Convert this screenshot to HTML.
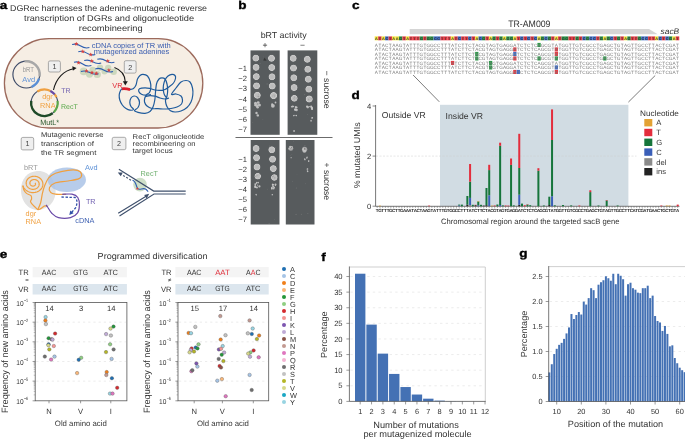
<!DOCTYPE html>
<html><head><meta charset="utf-8"><title>DGRec figure</title>
<style>
html,body{margin:0;padding:0;background:#fff;}
body{width:685px;height:440px;overflow:hidden;}
svg{display:block;font-family:"Liberation Sans", sans-serif;text-rendering:geometricPrecision;will-change:transform;}
</style></head><body>
<svg width="685" height="440" viewBox="0 0 685 440">
<text x="-0.30" y="9.20" font-size="11.5" fill="#000" textLength="7.55" lengthAdjust="spacingAndGlyphs" font-weight="bold" stroke="#000" stroke-width="0.35">a</text>
<text x="238.30" y="9.30" font-size="11.5" fill="#000" textLength="8.29" lengthAdjust="spacingAndGlyphs" font-weight="bold" stroke="#000" stroke-width="0.35">b</text>
<text x="352.00" y="9.10" font-size="11.5" fill="#000" textLength="7.55" lengthAdjust="spacingAndGlyphs" font-weight="bold" stroke="#000" stroke-width="0.35">c</text>
<text x="351.60" y="98.70" font-size="11.5" fill="#000" textLength="8.29" lengthAdjust="spacingAndGlyphs" font-weight="bold" stroke="#000" stroke-width="0.35">d</text>
<text x="-0.30" y="258.10" font-size="11.5" fill="#000" textLength="7.55" lengthAdjust="spacingAndGlyphs" font-weight="bold" stroke="#000" stroke-width="0.35">e</text>
<text x="321.30" y="261.00" font-size="11.5" fill="#000" textLength="4.52" lengthAdjust="spacingAndGlyphs" font-weight="bold" stroke="#000" stroke-width="0.35">f</text>
<text x="519.30" y="256.60" font-size="11.5" fill="#000" textLength="8.29" lengthAdjust="spacingAndGlyphs" font-weight="bold" stroke="#000" stroke-width="0.35">g</text>
<text x="10.00" y="10.90" font-size="8.4" fill="#333" textLength="197.00" lengthAdjust="spacingAndGlyphs">DGRec harnesses the adenine-mutagenic reverse</text>
<text x="109.10" y="20.70" font-size="8.4" fill="#333" text-anchor="middle" textLength="170.00" lengthAdjust="spacingAndGlyphs">transcription of DGRs and oligonucleotide</text>
<text x="110.70" y="30.60" font-size="8.4" fill="#333" text-anchor="middle" textLength="63.70" lengthAdjust="spacingAndGlyphs">recombineering</text>
<rect x="4.4" y="38.6" width="198.4" height="89.4" rx="44.7" ry="44.7" fill="#f6eee4" stroke="#9c6a5c" stroke-width="1.3"/>
<circle cx="26.3" cy="74.6" r="13.4" fill="none" stroke="#3e4b68" stroke-width="1.15"/>
<path d="M24.44,61.33 A13.4,13.4 0 0 1 39.57,76.46" fill="none" stroke="#a8a8a8" stroke-width="2.4"/>
<path d="M39.04,78.74 A13.4,13.4 0 0 1 31.75,86.84" fill="none" stroke="#5a8fd6" stroke-width="2.4"/>
<text x="28.40" y="71.90" font-size="7.4" fill="#9a9a9a" text-anchor="middle" textLength="11.40" lengthAdjust="spacingAndGlyphs">bRT</text>
<text x="28.70" y="81.50" font-size="7.4" fill="#5a8fd6" text-anchor="middle" textLength="12.70" lengthAdjust="spacingAndGlyphs">Avd</text>
<circle cx="44.4" cy="102.8" r="13.3" fill="none" stroke="#3e4b68" stroke-width="1.15"/>
<path d="M37.35,91.52 A13.3,13.3 0 0 1 50.44,90.95" fill="none" stroke="#f0a040" stroke-width="2.2"/>
<path d="M50.44,90.95 A13.3,13.3 0 0 1 54.74,94.43" fill="none" stroke="#6a4aa8" stroke-width="2.2"/>
<path d="M54.74,94.43 A13.3,13.3 0 0 1 56.45,97.18" fill="none" stroke="#f0a040" stroke-width="2.2"/>
<path d="M57.57,100.95 A13.3,13.3 0 0 1 53.80,112.20" fill="none" stroke="#5aa84a" stroke-width="2.2"/>
<path d="M52.59,113.28 A13.3,13.3 0 0 1 31.23,100.95" fill="none" stroke="#1f4a28" stroke-width="2.4"/>
<text x="47.50" y="99.00" font-size="7.3" fill="#f0a040" text-anchor="middle">dgr</text>
<text x="47.80" y="107.80" font-size="7.3" fill="#f0a040" text-anchor="middle">RNA</text>
<text x="61.20" y="92.60" font-size="7.0" fill="#7060b0">TR</text>
<text x="61.00" y="108.60" font-size="7.0" fill="#5aa84a">RecT</text>
<text x="40.20" y="125.40" font-size="7.6" fill="#2a5a30" textLength="19.00" lengthAdjust="spacingAndGlyphs">MutL*</text>
<rect x="48.4" y="60.9" width="12.0" height="11.1" rx="1.6" fill="#efefef" stroke="#8a8a8a" stroke-width="0.7"/>
<text x="54.40" y="69.05" font-size="7.2" fill="#444" text-anchor="middle">1</text>
<rect x="124.3" y="60.7" width="11.8" height="12.4" rx="1.6" fill="#efefef" stroke="#8a8a8a" stroke-width="0.7"/>
<text x="130.20" y="69.50" font-size="7.2" fill="#444" text-anchor="middle">2</text>
<path d="M53.5,90 C56,78 64,70.5 73.5,68.8" fill="none" stroke="#1a1a1a" stroke-width="1.1"/>
<path d="M76.6,68.0 L72.3,66.2 L72.9,70.8 Z" fill="#1a1a1a"/>
<path d="M114.4,67.6 C121,70 125,75 125.3,82" fill="none" stroke="#1a1a1a" stroke-width="1.1"/>
<path d="M125.3,85.6 L122.8,81.2 L127.8,81.2 Z" fill="#1a1a1a"/>
<circle cx="83.6" cy="71.4" r="3.8" fill="#bfd0b0" opacity="0.75"/>
<circle cx="89.5" cy="74.1" r="3.6" fill="#bfd0b0" opacity="0.75"/>
<circle cx="97.3" cy="74.5" r="3.6" fill="#bfd0b0" opacity="0.75"/>
<circle cx="100.0" cy="67.6" r="3.2" fill="#bfd0b0" opacity="0.75"/>
<circle cx="108.2" cy="67.9" r="3.2" fill="#bfd0b0" opacity="0.75"/>
<circle cx="113.6" cy="71.8" r="3.3" fill="#bfd0b0" opacity="0.75"/>
<circle cx="92.7" cy="70.0" r="3.2" fill="#bfd0b0" opacity="0.75"/>
<circle cx="104.5" cy="71.5" r="3.0" fill="#bfd0b0" opacity="0.75"/>
<path d="M72.1,44.6 Q76.425,43.2 80.75,46.05 T89.4,47.5" fill="none" stroke="#2f5fb0" stroke-width="1.1"/>
<polygon points="76.30,41.70 76.88,43.10 78.39,43.22 77.24,44.21 77.59,45.68 76.30,44.89 75.01,45.68 75.36,44.21 74.21,43.22 75.72,43.10" fill="#d84040"/>
<path d="M78.3,51.8 Q82.55,50.4 86.8,53.099999999999994 T95.3,54.4" fill="none" stroke="#2f5fb0" stroke-width="1.1"/>
<polygon points="82.80,49.30 83.38,50.70 84.89,50.82 83.74,51.81 84.09,53.28 82.80,52.49 81.51,53.28 81.86,51.81 80.71,50.82 82.22,50.70" fill="#d84040"/>
<polygon points="90.70,52.40 91.28,53.80 92.79,53.92 91.64,54.91 91.99,56.38 90.70,55.59 89.41,56.38 89.76,54.91 88.61,53.92 90.12,53.80" fill="#d84040"/>
<path d="M84.2,60.6 Q88.45,59.2 92.7,61.8 T101.2,63.0" fill="none" stroke="#2f5fb0" stroke-width="1.1"/>
<polygon points="91.80,58.80 92.38,60.20 93.89,60.32 92.74,61.31 93.09,62.78 91.80,61.99 90.51,62.78 90.86,61.31 89.71,60.32 91.22,60.20" fill="#d84040"/>
<path d="M97.3,59.3 Q101.57499999999999,57.9 105.85,60.8 T114.4,62.3" fill="none" stroke="#2f5fb0" stroke-width="1.1"/>
<polygon points="107.80,58.80 108.38,60.20 109.89,60.32 108.74,61.31 109.09,62.78 107.80,61.99 106.51,62.78 106.86,61.31 105.71,60.32 107.22,60.20" fill="#d84040"/>
<path d="M74.0,62.3 Q78.35,60.9 82.7,63.949999999999996 T91.4,65.6" fill="none" stroke="#2f5fb0" stroke-width="1.1"/>
<polygon points="78.60,60.50 79.18,61.90 80.69,62.02 79.54,63.01 79.89,64.48 78.60,63.69 77.31,64.48 77.66,63.01 76.51,62.02 78.02,61.90" fill="#d84040"/>
<path d="M80.9,71.5 Q85.325,70.1 89.75,72.6 T98.6,73.7" fill="none" stroke="#2f5fb0" stroke-width="1.1"/>
<polygon points="86.50,68.80 87.08,70.20 88.59,70.32 87.44,71.31 87.79,72.78 86.50,71.99 85.21,72.78 85.56,71.31 84.41,70.32 85.92,70.20" fill="#d84040"/>
<polygon points="92.00,70.40 92.58,71.80 94.09,71.92 92.94,72.91 93.29,74.38 92.00,73.59 90.71,74.38 91.06,72.91 89.91,71.92 91.42,71.80" fill="#d84040"/>
<polygon points="96.30,71.20 96.88,72.60 98.39,72.72 97.24,73.71 97.59,75.18 96.30,74.39 95.01,75.18 95.36,73.71 94.21,72.72 95.72,72.60" fill="#d84040"/>
<path d="M95.3,68.9 Q99.725,67.5 104.15,70.2 T113.0,71.5" fill="none" stroke="#2f5fb0" stroke-width="1.1"/>
<polygon points="108.90,68.00 109.48,69.40 110.99,69.52 109.84,70.51 110.19,71.98 108.90,71.19 107.61,71.98 107.96,70.51 106.81,69.52 108.32,69.40" fill="#d84040"/>
<text x="91.80" y="48.20" font-size="7.4" fill="#3a5db0" textLength="79.00" lengthAdjust="spacingAndGlyphs">cDNA copies of TR with</text>
<text x="93.80" y="53.60" font-size="7.4" fill="#3a5db0" textLength="75.50" lengthAdjust="spacingAndGlyphs">mutagenized adenines</text>
<text x="112.30" y="88.00" font-size="7.4" fill="#e0303c">VR</text>
<path d="M121.90,88.80 C121.62,89.20 120.65,90.17 120.20,91.20 C119.75,92.23 119.27,93.53 119.20,95.00 C119.13,96.47 119.28,98.33 119.80,100.00 C120.32,101.67 121.27,103.58 122.30,105.00 C123.33,106.42 124.72,107.63 126.00,108.50 C127.28,109.37 128.75,110.07 130.00,110.20 C131.25,110.33 133.33,109.92 133.50,109.30 C133.67,108.68 131.62,107.63 131.00,106.50 C130.38,105.37 129.80,103.92 129.80,102.50 C129.80,101.08 130.30,99.08 131.00,98.00 C131.70,96.92 132.92,96.08 134.00,96.00 C135.08,95.92 136.58,96.42 137.50,97.50 C138.42,98.58 139.42,100.83 139.50,102.50 C139.58,104.17 138.83,106.17 138.00,107.50 C137.17,108.83 134.50,109.70 134.50,110.50 C134.50,111.30 136.25,111.83 138.00,112.30 C139.75,112.77 143.00,113.43 145.00,113.30 C147.00,113.17 148.67,112.55 150.00,111.50 C151.33,110.45 152.20,108.92 153.00,107.00 C153.80,105.08 154.38,102.50 154.80,100.00 C155.22,97.50 155.22,94.67 155.50,92.00 C155.78,89.33 155.92,86.17 156.50,84.00 C157.08,81.83 158.08,80.03 159.00,79.00 C159.92,77.97 161.00,77.80 162.00,77.80 C163.00,77.80 164.17,77.97 165.00,79.00 C165.83,80.03 166.55,82.17 167.00,84.00 C167.45,85.83 167.70,88.00 167.70,90.00 C167.70,92.00 167.37,94.33 167.00,96.00 C166.63,97.67 165.67,98.67 165.50,100.00 C165.33,101.33 165.67,102.75 166.00,104.00 C166.33,105.25 166.75,106.37 167.50,107.50 C168.25,108.63 169.25,110.05 170.50,110.80 C171.75,111.55 173.25,111.97 175.00,112.00 C176.75,112.03 179.00,111.75 181.00,111.00 C183.00,110.25 185.33,109.00 187.00,107.50 C188.67,106.00 190.03,104.08 191.00,102.00 C191.97,99.92 192.55,97.33 192.80,95.00 C193.05,92.67 192.97,90.17 192.50,88.00 C192.03,85.83 191.08,83.25 190.00,82.00 C188.92,80.75 187.50,80.50 186.00,80.50 C184.50,80.50 182.67,80.75 181.00,82.00 C179.33,83.25 177.58,85.97 176.00,88.00 C174.42,90.03 171.50,93.20 171.50,94.20 C171.50,95.20 174.42,93.70 176.00,94.00 C177.58,94.30 179.92,95.00 181.00,96.00 C182.08,97.00 182.42,98.67 182.50,100.00 C182.58,101.33 182.42,102.83 181.50,104.00 C180.58,105.17 178.75,106.25 177.00,107.00 C175.25,107.75 173.00,108.17 171.00,108.50 C169.00,108.83 167.17,108.97 165.00,109.00 C162.83,109.03 160.17,108.78 158.00,108.70 C155.83,108.62 153.83,108.95 152.00,108.50 C150.17,108.05 148.25,107.08 147.00,106.00 C145.75,104.92 144.87,103.33 144.50,102.00 C144.13,100.67 144.47,99.20 144.80,98.00 C145.13,96.80 145.72,95.72 146.50,94.80 C147.28,93.88 148.78,93.63 149.50,92.50 C150.22,91.37 150.67,89.75 150.80,88.00 C150.93,86.25 150.85,84.00 150.30,82.00 C149.75,80.00 148.72,77.28 147.50,76.00 C146.28,74.72 144.25,74.38 143.00,74.30 C141.75,74.22 140.92,74.72 140.00,75.50 C139.08,76.28 138.17,77.42 137.50,79.00 C136.83,80.58 136.67,83.42 136.00,85.00 C135.33,86.58 134.48,87.73 133.50,88.50 C132.52,89.27 130.67,89.42 130.10,89.60" fill="none" stroke="#1f5b9c" stroke-width="1.2" stroke-linecap="round"/>
<path d="M150.50,94.60 C149.75,94.70 147.50,95.27 146.00,95.20 C144.50,95.13 142.70,94.82 141.50,94.20 C140.30,93.58 139.13,92.40 138.80,91.50 C138.47,90.60 138.47,89.42 139.50,88.80 C140.53,88.18 143.25,87.85 145.00,87.80 C146.75,87.75 148.33,88.13 150.00,88.50 C151.67,88.87 153.33,89.68 155.00,90.00 C156.67,90.32 158.33,90.48 160.00,90.40 C161.67,90.32 163.42,90.15 165.00,89.50 C166.58,88.85 168.08,87.58 169.50,86.50 C170.92,85.42 172.50,84.33 173.50,83.00 C174.50,81.67 175.25,79.75 175.50,78.50 C175.75,77.25 175.58,76.20 175.00,75.50 C174.42,74.80 173.17,74.22 172.00,74.30 C170.83,74.38 169.17,75.05 168.00,76.00 C166.83,76.95 165.75,78.50 165.00,80.00 C164.25,81.50 163.78,83.33 163.50,85.00 C163.22,86.67 163.13,88.33 163.30,90.00 C163.47,91.67 163.97,93.75 164.50,95.00 C165.03,96.25 166.17,97.08 166.50,97.50" fill="none" stroke="#1f5b9c" stroke-width="1.2" stroke-linecap="round"/>
<path d="M146.50,96.50 C147.08,96.35 148.58,95.65 150.00,95.60 C151.42,95.55 153.33,95.80 155.00,96.20 C156.67,96.60 158.33,97.53 160.00,98.00 C161.67,98.47 163.58,98.97 165.00,99.00 C166.42,99.03 167.92,98.33 168.50,98.20" fill="none" stroke="#1f5b9c" stroke-width="1.2" stroke-linecap="round"/>
<path d="M121.9,88.8 Q126,88.4 130.1,89.6" fill="none" stroke="#dc1f2e" stroke-width="2.7"/>
<rect x="21.2" y="137.4" width="12.5" height="12.5" rx="1.6" fill="#efefef" stroke="#8a8a8a" stroke-width="0.7"/>
<text x="27.45" y="146.25" font-size="7.2" fill="#444" text-anchor="middle">1</text>
<rect x="112.2" y="137.3" width="13.7" height="12.4" rx="1.6" fill="#efefef" stroke="#8a8a8a" stroke-width="0.7"/>
<text x="119.05" y="146.10" font-size="7.2" fill="#444" text-anchor="middle">2</text>
<text x="40.90" y="137.20" font-size="6.9" fill="#333" textLength="62.50" lengthAdjust="spacingAndGlyphs">Mutagenic reverse</text>
<text x="40.90" y="145.80" font-size="6.9" fill="#333" textLength="53.00" lengthAdjust="spacingAndGlyphs">transcription of</text>
<text x="40.90" y="154.50" font-size="6.9" fill="#333" textLength="55.50" lengthAdjust="spacingAndGlyphs">the TR segment</text>
<text x="132.60" y="138.80" font-size="6.9" fill="#333" textLength="71.60" lengthAdjust="spacingAndGlyphs">RecT oligonucleotide</text>
<text x="132.60" y="145.80" font-size="6.9" fill="#333" textLength="63.00" lengthAdjust="spacingAndGlyphs">recombineering on</text>
<text x="132.60" y="152.80" font-size="6.9" fill="#333" textLength="40.00" lengthAdjust="spacingAndGlyphs">target locus</text>
<path d="M37,171 C48,170 56,180 55.6,192 C55,203 48,209 38,210 C27,210 21,200 21,190 C21,179 27,172 37,171 Z" fill="#e2e2e2"/>
<ellipse cx="66.8" cy="179.8" rx="19.2" ry="12.2" fill="#aac3e6" opacity="0.85"/>
<text x="24.00" y="169.60" font-size="7.3" fill="#9a9a9a">bRT</text>
<text x="85.00" y="169.60" font-size="7.3" fill="#5a8fd6">Avd</text>
<path d="M34.91,182.94 L35.01,183.01 L35.10,183.10 L35.19,183.19 L35.27,183.30 L35.34,183.41 L35.40,183.53 L35.44,183.66 L35.48,183.79 L35.50,183.93 L35.51,184.08 L35.51,184.23 L35.49,184.38 L35.45,184.53 L35.40,184.68 L35.33,184.83 L35.25,184.97 L35.15,185.12 L35.04,185.25 L34.91,185.39 L34.76,185.51 L34.61,185.62 L34.43,185.73 L34.25,185.82 L34.05,185.90 L33.85,185.97 L33.63,186.02 L33.41,186.05 L33.18,186.07 L32.94,186.08 L32.71,186.06 L32.47,186.03 L32.23,185.98 L31.99,185.91 L31.76,185.82 L31.53,185.72 L31.31,185.60 L31.10,185.46 L30.90,185.30 L30.72,185.12 L30.54,184.93 L30.39,184.73 L30.25,184.51 L30.13,184.28 L30.03,184.04 L29.96,183.79 L29.90,183.54 L29.87,183.27 L29.87,183.00 L29.89,182.73 L29.94,182.46 L30.01,182.19 L30.11,181.92 L30.23,181.66 L30.38,181.40 L30.56,181.15 L30.76,180.91 L30.98,180.69 L31.23,180.48 L31.50,180.29 L31.78,180.11 L32.09,179.95 L32.41,179.82 L32.75,179.71 L33.11,179.62 L33.47,179.55 L33.84,179.52 L34.22,179.51 L34.60,179.52 L34.98,179.56 L35.36,179.63 L35.73,179.73 L36.10,179.86 L36.46,180.01 L36.81,180.19 L37.14,180.40 L37.46,180.63 L37.75,180.89 L38.03,181.17 L38.28,181.47 L38.50,181.79 L38.69,182.13 L38.86,182.48 L38.99,182.85 L39.09,183.23 L39.15,183.61 L39.18,184.01 L39.17,184.41 L39.13,184.80 L39.04,185.20 L38.92,185.60 L38.77,185.99 L38.57,186.36 L38.35,186.73 L38.08,187.08 L37.78,187.42 L37.45,187.73 L37.09,188.02 L36.70,188.29 L36.29,188.53 L35.84,188.74 L35.38,188.93 L34.90,189.07 L34.41,189.19 L33.90,189.27 L33.38,189.32 L32.85,189.32 L32.33,189.29 L31.80,189.23 L31.28,189.12 L30.76,188.98 L30.26,188.80 L29.77,188.58 L29.30,188.33 L28.85,188.04 L28.43,187.72 L28.03,187.37 L27.67,186.99 L27.34,186.58 L27.04,186.14 L26.79,185.69 L26.57,185.21 L26.40,184.72 L26.28,184.21 L26.20,183.70 L26.16,183.17 L26.18,182.64 L26.24,182.11 L26.36,181.59 L26.52,181.07 L26.73,180.56 L26.99,180.07 L27.29,179.59 L27.64,179.13 L28.03,178.69 L28.47,178.29 L28.94,177.91 L29.45,177.56 L29.99,177.25 L30.56,176.98 L31.16,176.75 L31.78,176.56 L32.42,176.41 L33.07,176.31 L33.74,176.25 L34.41,176.24 L35.09,176.28 L35.76,176.37 L36.43,176.51 L37.08,176.69 L37.72,176.92 L38.34,177.20 L38.94,177.52 L39.51,177.88 L40.04,178.29 L40.54,178.73 L41.00,179.21 L41.42,179.73 L41.79,180.27 L42.11,180.85 L42.38,181.44 L42.59,182.06 L42.75,182.69 L42.85,183.34 L42.89,183.99 L42.88,184.65 L42.80,185.31 L42.66,185.96 L42.46,186.61 L42.20,187.24 L41.88,187.86 L41.51,188.45 L41.08,189.02 L40.59,189.55 L40.06,190.06 L39.48,190.53 L38.86,190.95 L38.19,191.34 L37.49,191.67 L36.76,191.96 L36.00,192.20 L35.22,192.38 L34.42,192.51 L33.61,192.58 L32.78,192.59 L31.96,192.55 L31.14,192.44 L30.33,192.28 L29.53,192.06 L28.75,191.79 L28.00,191.45 L27.27,191.07 L26.58,190.63 L25.93,190.14 L25.32,189.61 L24.77,189.03 L24.26,188.41 L23.81,187.76 L23.42,187.07 L23.09,186.35 L22.82,185.61" fill="none" stroke="#f0a040" stroke-width="1.2" stroke-linejoin="round"/>
<path d="M22.82,185.61 C23.00,186.35 23.29,188.70 23.90,190.00 C24.51,191.30 25.32,192.45 26.50,193.40 C27.68,194.35 30.15,194.77 31.00,195.70 C31.85,196.63 31.68,198.05 31.60,199.00 C31.52,199.95 30.40,200.53 30.50,201.40 C30.60,202.27 31.45,203.27 32.20,204.20 C32.95,205.13 34.05,206.10 35.00,207.00 C35.95,207.90 36.95,209.33 37.90,209.60 C38.85,209.87 39.57,209.22 40.70,208.60 C41.83,207.98 43.57,206.25 44.70,205.90 C45.83,205.55 47.03,206.40 47.50,206.50" fill="none" stroke="#f0a040" stroke-width="1.2"/>
<path d="M37.90,209.60 C38.37,208.42 39.95,205.20 40.70,202.50 C41.45,199.80 41.73,196.23 42.40,193.40 C43.07,190.57 43.65,188.10 44.70,185.50 C45.75,182.90 46.90,179.85 48.70,177.80 C50.50,175.75 52.28,174.45 55.50,173.20 C58.72,171.95 64.33,170.77 68.00,170.30 C71.67,169.83 75.23,169.73 77.50,170.40 C79.77,171.07 81.35,172.93 81.60,174.30 C81.85,175.67 81.27,177.48 79.00,178.60 C76.73,179.72 72.00,180.27 68.00,181.00 C64.00,181.73 58.08,181.90 55.00,183.00 C51.92,184.10 50.23,186.05 49.50,187.60 C48.77,189.15 49.60,191.20 50.60,192.30 C51.60,193.40 53.55,193.87 55.50,194.20 C57.45,194.53 60.55,194.28 62.30,194.30 C64.05,194.32 65.38,194.30 66.00,194.30" fill="none" stroke="#f0a040" stroke-width="1.2"/>
<path d="M62.30,194.30 C63.92,194.28 69.42,193.67 72.00,194.20 C74.58,194.73 76.57,195.70 77.80,197.50 C79.03,199.30 79.43,202.45 79.40,205.00 C79.37,207.55 79.08,210.70 77.60,212.80 C76.12,214.90 73.68,216.80 70.50,217.60 C67.32,218.40 61.62,218.33 58.50,217.60 C55.38,216.87 53.62,214.97 51.80,213.20 C49.98,211.43 48.57,208.37 47.60,207.00 C46.63,205.63 46.27,205.33 46.00,205.00" fill="none" stroke="#6a4aa8" stroke-width="1.2"/>
<path d="M61.5,197 L75,197.5 C77.5,199 77.5,204 75.5,208 L71.5,212.5" fill="none" stroke="#3050a8" stroke-width="1.3" stroke-dasharray="2.4,1.6"/>
<path d="M69.3,215 L70.3,210.5 L73.6,213.3 Z" fill="#3050a8"/>
<text x="85.90" y="203.60" font-size="7.3" fill="#7060b0">TR</text>
<text x="75.30" y="222.70" font-size="7.3" fill="#3a5db0">cDNA</text>
<text x="25.60" y="216.30" font-size="7.3" fill="#f0a040">dgr</text>
<text x="25.60" y="223.50" font-size="7.3" fill="#f0a040">RNA</text>
<circle cx="140" cy="184.6" r="6.8" fill="#c9dbc2" opacity="0.9"/>
<path d="M118.9,169.3 L153.7,191.1 L185.7,191.1 M119.5,216 L154,194 L185.7,194 M118.2,213.2 L146.5,196" fill="none" stroke="#3f506c" stroke-width="1.15"/>
<path d="M149.2,193.8 L144.2,194.9 L146.7,198.6 Z" fill="#3f506c"/>
<path d="M131,180.2 L121.5,174.4" fill="none" stroke="#3f506c" stroke-width="1.1" stroke-dasharray="2,1.6"/>
<path d="M117.8,172.5 L122.8,172.6 L120.8,176.2 Z" fill="#3f506c"/>
<path d="M132.5,180.3 C136,181 136,186 137.6,188.6 C139.5,190.5 143,187.5 145.5,189 C147,190 147.5,191 148.2,191.6" fill="none" stroke="#2f5fb0" stroke-width="1.1"/>
<polygon points="137.40,187.00 137.82,188.02 138.92,188.11 138.08,188.82 138.34,189.89 137.40,189.32 136.46,189.89 136.72,188.82 135.88,188.11 136.98,188.02" fill="#d84040"/>
<text x="140.60" y="175.70" font-size="7.3" fill="#70b070">RecT</text>
<text x="260.70" y="38.00" font-size="8.6" fill="#333" textLength="46.00" lengthAdjust="spacingAndGlyphs">bRT activity</text>
<text x="265.00" y="47.60" font-size="8.6" fill="#333" text-anchor="middle">+</text>
<text x="302.50" y="47.60" font-size="8.6" fill="#333" text-anchor="middle">−</text>
<rect x="250.5" y="50.4" width="29.2" height="84.4" fill="#575b5d"/>
<rect x="287.6" y="50.4" width="29.7" height="84.4" fill="#575b5d"/>
<rect x="250.7" y="140.0" width="28.8" height="84.5" fill="#575b5d"/>
<rect x="285.8" y="140.0" width="28.7" height="84.5" fill="#575b5d"/>
<line x1="235.5" y1="137.5" x2="332.5" y2="137.5" stroke="#5a5a5a" stroke-width="0.9"/>
<text x="247.00" y="71.00" font-size="7.6" fill="#333" text-anchor="end">−1</text>
<text x="247.00" y="162.00" font-size="7.6" fill="#333" text-anchor="end">−1</text>
<text x="247.00" y="81.17" font-size="7.6" fill="#333" text-anchor="end">−2</text>
<text x="247.00" y="172.00" font-size="7.6" fill="#333" text-anchor="end">−2</text>
<text x="247.00" y="91.34" font-size="7.6" fill="#333" text-anchor="end">−3</text>
<text x="247.00" y="182.00" font-size="7.6" fill="#333" text-anchor="end">−3</text>
<text x="247.00" y="101.51" font-size="7.6" fill="#333" text-anchor="end">−4</text>
<text x="247.00" y="192.00" font-size="7.6" fill="#333" text-anchor="end">−4</text>
<text x="247.00" y="111.68" font-size="7.6" fill="#333" text-anchor="end">−5</text>
<text x="247.00" y="202.00" font-size="7.6" fill="#333" text-anchor="end">−5</text>
<text x="247.00" y="121.85" font-size="7.6" fill="#333" text-anchor="end">−6</text>
<text x="247.00" y="212.00" font-size="7.6" fill="#333" text-anchor="end">−6</text>
<text x="247.00" y="132.02" font-size="7.6" fill="#333" text-anchor="end">−7</text>
<text x="247.00" y="222.00" font-size="7.6" fill="#333" text-anchor="end">−7</text>
<defs><radialGradient id="sp"><stop offset="0" stop-color="#b9b9b9"/><stop offset="0.6" stop-color="#bfbfbf"/><stop offset="0.82" stop-color="#c9c9c9"/><stop offset="1" stop-color="#bdbdbd" stop-opacity="0.1"/></radialGradient></defs>
<circle cx="260.07" cy="63.52" r="0.50" fill="#8a8a8a" opacity="0.5"/>
<circle cx="253.03" cy="95.48" r="0.41" fill="#8a8a8a" opacity="0.5"/>
<circle cx="252.62" cy="93.12" r="0.31" fill="#8a8a8a" opacity="0.5"/>
<circle cx="263.14" cy="56.80" r="0.33" fill="#8a8a8a" opacity="0.5"/>
<circle cx="262.89" cy="119.63" r="0.34" fill="#8a8a8a" opacity="0.5"/>
<circle cx="257.25" cy="103.08" r="0.58" fill="#8a8a8a" opacity="0.5"/>
<circle cx="267.16" cy="83.92" r="0.59" fill="#8a8a8a" opacity="0.5"/>
<circle cx="252.30" cy="122.25" r="0.39" fill="#8a8a8a" opacity="0.5"/>
<circle cx="255.04" cy="60.78" r="0.39" fill="#8a8a8a" opacity="0.5"/>
<circle cx="273.85" cy="66.00" r="0.47" fill="#8a8a8a" opacity="0.5"/>
<circle cx="306.53" cy="81.91" r="0.46" fill="#8a8a8a" opacity="0.5"/>
<circle cx="289.82" cy="55.95" r="0.36" fill="#8a8a8a" opacity="0.5"/>
<circle cx="307.73" cy="86.49" r="0.39" fill="#8a8a8a" opacity="0.5"/>
<circle cx="304.98" cy="88.61" r="0.39" fill="#8a8a8a" opacity="0.5"/>
<circle cx="311.04" cy="109.02" r="0.37" fill="#8a8a8a" opacity="0.5"/>
<circle cx="304.66" cy="94.59" r="0.56" fill="#8a8a8a" opacity="0.5"/>
<circle cx="309.15" cy="74.90" r="0.59" fill="#8a8a8a" opacity="0.5"/>
<circle cx="291.42" cy="85.70" r="0.53" fill="#8a8a8a" opacity="0.5"/>
<circle cx="292.41" cy="91.58" r="0.31" fill="#8a8a8a" opacity="0.5"/>
<circle cx="307.38" cy="114.46" r="0.47" fill="#8a8a8a" opacity="0.5"/>
<circle cx="275.51" cy="167.04" r="0.51" fill="#8a8a8a" opacity="0.5"/>
<circle cx="267.64" cy="189.13" r="0.44" fill="#8a8a8a" opacity="0.5"/>
<circle cx="274.52" cy="219.41" r="0.44" fill="#8a8a8a" opacity="0.5"/>
<circle cx="269.60" cy="146.04" r="0.51" fill="#8a8a8a" opacity="0.5"/>
<circle cx="269.12" cy="223.43" r="0.55" fill="#8a8a8a" opacity="0.5"/>
<circle cx="258.97" cy="173.02" r="0.50" fill="#8a8a8a" opacity="0.5"/>
<circle cx="251.63" cy="179.32" r="0.35" fill="#8a8a8a" opacity="0.5"/>
<circle cx="254.28" cy="145.89" r="0.53" fill="#8a8a8a" opacity="0.5"/>
<circle cx="254.62" cy="161.55" r="0.42" fill="#8a8a8a" opacity="0.5"/>
<circle cx="275.40" cy="147.69" r="0.43" fill="#8a8a8a" opacity="0.5"/>
<circle cx="301.38" cy="214.32" r="0.55" fill="#8a8a8a" opacity="0.5"/>
<circle cx="310.19" cy="164.11" r="0.42" fill="#8a8a8a" opacity="0.5"/>
<circle cx="296.05" cy="214.39" r="0.59" fill="#8a8a8a" opacity="0.5"/>
<circle cx="290.23" cy="155.63" r="0.37" fill="#8a8a8a" opacity="0.5"/>
<circle cx="292.53" cy="181.25" r="0.48" fill="#8a8a8a" opacity="0.5"/>
<circle cx="293.36" cy="141.34" r="0.43" fill="#8a8a8a" opacity="0.5"/>
<circle cx="296.34" cy="188.01" r="0.59" fill="#8a8a8a" opacity="0.5"/>
<circle cx="305.33" cy="183.79" r="0.49" fill="#8a8a8a" opacity="0.5"/>
<circle cx="304.93" cy="145.48" r="0.57" fill="#8a8a8a" opacity="0.5"/>
<circle cx="307.84" cy="213.58" r="0.54" fill="#8a8a8a" opacity="0.5"/>
<circle cx="296.99" cy="174.12" r="0.33" fill="#8a8a8a" opacity="0.5"/>
<circle cx="303.76" cy="146.17" r="0.32" fill="#8a8a8a" opacity="0.5"/>
<circle cx="291.85" cy="154.47" r="0.40" fill="#8a8a8a" opacity="0.5"/>
<circle cx="287.47" cy="141.02" r="0.35" fill="#8a8a8a" opacity="0.5"/>
<circle cx="255.80" cy="58.10" r="3.7" fill="url(#sp)" opacity="1.0"/>
<circle cx="271.50" cy="58.30" r="3.7" fill="url(#sp)" opacity="1.0"/>
<circle cx="256.05" cy="67.35" r="3.7" fill="url(#sp)" opacity="1.0"/>
<circle cx="271.75" cy="67.55" r="3.7" fill="url(#sp)" opacity="1.0"/>
<circle cx="256.30" cy="76.60" r="3.7" fill="url(#sp)" opacity="1.0"/>
<circle cx="272.00" cy="76.80" r="3.7" fill="url(#sp)" opacity="1.0"/>
<circle cx="256.55" cy="85.85" r="3.7" fill="url(#sp)" opacity="1.0"/>
<circle cx="272.25" cy="86.05" r="3.7" fill="url(#sp)" opacity="1.0"/>
<circle cx="257.30" cy="95.30" r="3.7" fill="url(#sp)" opacity="1.0"/>
<circle cx="258.15" cy="95.93" r="0.36" fill="#8a8a8a" opacity="0.7"/>
<circle cx="258.37" cy="94.22" r="0.39" fill="#8a8a8a" opacity="0.7"/>
<circle cx="257.29" cy="96.33" r="0.44" fill="#8a8a8a" opacity="0.7"/>
<circle cx="258.69" cy="96.66" r="0.60" fill="#8a8a8a" opacity="0.7"/>
<circle cx="273.60" cy="95.60" r="3.8" fill="url(#sp)" opacity="1.0"/>
<circle cx="272.32" cy="95.88" r="0.37" fill="#8a8a8a" opacity="0.7"/>
<circle cx="274.44" cy="96.23" r="0.42" fill="#8a8a8a" opacity="0.7"/>
<circle cx="273.93" cy="94.98" r="0.36" fill="#8a8a8a" opacity="0.7"/>
<circle cx="274.93" cy="95.18" r="0.39" fill="#8a8a8a" opacity="0.7"/>
<circle cx="255.5" cy="103.2" r="1.5" fill="#c4c4c4" opacity="0.95"/>
<circle cx="258.2" cy="102.6" r="1.4" fill="#c4c4c4" opacity="0.95"/>
<circle cx="259.4" cy="105.0" r="1.5" fill="#c4c4c4" opacity="0.95"/>
<circle cx="256.8" cy="105.6" r="1.5" fill="#c4c4c4" opacity="0.95"/>
<circle cx="257.6" cy="107.2" r="1.3" fill="#c4c4c4" opacity="0.95"/>
<circle cx="255.2" cy="105.2" r="1.1" fill="#c4c4c4" opacity="0.95"/>
<circle cx="272.9" cy="105.8" r="1.9" fill="#c4c4c4" opacity="0.95"/>
<circle cx="272.2" cy="104.3" r="1.1" fill="#c4c4c4" opacity="0.95"/>
<circle cx="275.5" cy="102.5" r="0.9" fill="#c4c4c4" opacity="0.95"/>
<circle cx="256.5" cy="113.0" r="1.2" fill="#c4c4c4" opacity="0.95"/>
<circle cx="257.8" cy="115.4" r="1.2" fill="#c4c4c4" opacity="0.95"/>
<path d="M264.6,57.5 L266.6,60.8 L263.2,60.6 Z" fill="#2e2e2e" opacity="0.8"/>
<circle cx="293.20" cy="58.30" r="3.7" fill="url(#sp)" opacity="1.0"/>
<circle cx="307.30" cy="59.30" r="3.7" fill="url(#sp)" opacity="1.0"/>
<circle cx="293.50" cy="68.05" r="3.7" fill="url(#sp)" opacity="1.0"/>
<circle cx="307.80" cy="69.25" r="3.7" fill="url(#sp)" opacity="1.0"/>
<circle cx="293.80" cy="77.80" r="3.7" fill="url(#sp)" opacity="1.0"/>
<circle cx="308.30" cy="79.20" r="3.7" fill="url(#sp)" opacity="1.0"/>
<circle cx="294.10" cy="87.55" r="3.7" fill="url(#sp)" opacity="1.0"/>
<circle cx="308.80" cy="89.15" r="3.7" fill="url(#sp)" opacity="1.0"/>
<circle cx="294.30" cy="98.30" r="3.6" fill="url(#sp)" opacity="1.0"/>
<circle cx="293.87" cy="98.18" r="0.48" fill="#8a8a8a" opacity="0.7"/>
<circle cx="296.20" cy="98.04" r="0.52" fill="#8a8a8a" opacity="0.7"/>
<circle cx="294.23" cy="99.34" r="0.39" fill="#8a8a8a" opacity="0.7"/>
<circle cx="294.48" cy="96.98" r="0.54" fill="#8a8a8a" opacity="0.7"/>
<circle cx="309.20" cy="99.00" r="3.8" fill="url(#sp)" opacity="1.0"/>
<circle cx="308.81" cy="99.72" r="0.55" fill="#8a8a8a" opacity="0.7"/>
<circle cx="311.19" cy="98.81" r="0.55" fill="#8a8a8a" opacity="0.7"/>
<circle cx="309.95" cy="97.37" r="0.41" fill="#8a8a8a" opacity="0.7"/>
<circle cx="308.14" cy="98.88" r="0.36" fill="#8a8a8a" opacity="0.7"/>
<circle cx="291.60" cy="106.81" r="0.76" fill="#c6c6c6" opacity="0.9"/>
<circle cx="295.26" cy="109.85" r="0.87" fill="#c6c6c6" opacity="0.9"/>
<circle cx="296.60" cy="110.00" r="1.17" fill="#c6c6c6" opacity="0.9"/>
<circle cx="293.46" cy="106.54" r="0.74" fill="#c6c6c6" opacity="0.9"/>
<circle cx="292.53" cy="106.47" r="0.97" fill="#c6c6c6" opacity="0.9"/>
<circle cx="296.40" cy="109.33" r="0.89" fill="#c6c6c6" opacity="0.9"/>
<circle cx="295.04" cy="109.15" r="0.65" fill="#c6c6c6" opacity="0.9"/>
<circle cx="295.08" cy="109.64" r="1.07" fill="#c6c6c6" opacity="0.9"/>
<circle cx="295.58" cy="107.70" r="0.71" fill="#c6c6c6" opacity="0.9"/>
<circle cx="295.79" cy="107.05" r="1.08" fill="#c6c6c6" opacity="0.9"/>
<circle cx="296.79" cy="107.33" r="0.84" fill="#c6c6c6" opacity="0.9"/>
<circle cx="311.98" cy="109.21" r="0.70" fill="#c6c6c6" opacity="0.9"/>
<circle cx="307.06" cy="106.63" r="1.14" fill="#c6c6c6" opacity="0.9"/>
<circle cx="311.14" cy="106.61" r="1.10" fill="#c6c6c6" opacity="0.9"/>
<circle cx="312.18" cy="108.91" r="0.81" fill="#c6c6c6" opacity="0.9"/>
<circle cx="309.59" cy="106.54" r="0.61" fill="#c6c6c6" opacity="0.9"/>
<circle cx="312.13" cy="108.87" r="0.92" fill="#c6c6c6" opacity="0.9"/>
<circle cx="311.90" cy="107.90" r="1.12" fill="#c6c6c6" opacity="0.9"/>
<circle cx="311.26" cy="106.90" r="0.75" fill="#c6c6c6" opacity="0.9"/>
<circle cx="308.06" cy="107.03" r="0.95" fill="#c6c6c6" opacity="0.9"/>
<circle cx="307.86" cy="107.84" r="0.68" fill="#c6c6c6" opacity="0.9"/>
<circle cx="311.76" cy="107.54" r="0.87" fill="#c6c6c6" opacity="0.9"/>
<circle cx="293.70" cy="115.70" r="0.63" fill="#c6c6c6" opacity="0.9"/>
<circle cx="294.10" cy="115.30" r="0.66" fill="#c6c6c6" opacity="0.9"/>
<circle cx="296.42" cy="115.61" r="0.63" fill="#c6c6c6" opacity="0.9"/>
<circle cx="296.15" cy="115.60" r="0.74" fill="#c6c6c6" opacity="0.9"/>
<circle cx="311.97" cy="117.97" r="0.82" fill="#c6c6c6" opacity="0.9"/>
<circle cx="312.36" cy="117.83" r="0.76" fill="#c6c6c6" opacity="0.9"/>
<circle cx="311.06" cy="121.08" r="0.63" fill="#c6c6c6" opacity="0.9"/>
<circle cx="311.06" cy="120.55" r="0.68" fill="#c6c6c6" opacity="0.9"/>
<circle cx="294.07" cy="130.81" r="0.77" fill="#c6c6c6" opacity="0.9"/>
<circle cx="294.06" cy="131.21" r="0.73" fill="#c6c6c6" opacity="0.9"/>
<circle cx="256.10" cy="148.50" r="3.7" fill="url(#sp)" opacity="1.0"/>
<circle cx="271.80" cy="149.80" r="3.7" fill="url(#sp)" opacity="1.0"/>
<circle cx="256.55" cy="157.75" r="3.7" fill="url(#sp)" opacity="1.0"/>
<circle cx="272.55" cy="159.20" r="3.7" fill="url(#sp)" opacity="1.0"/>
<circle cx="257.00" cy="167.00" r="3.7" fill="url(#sp)" opacity="1.0"/>
<circle cx="273.30" cy="168.60" r="3.7" fill="url(#sp)" opacity="1.0"/>
<circle cx="257.70" cy="176.20" r="3.5" fill="url(#sp)" opacity="1.0"/>
<circle cx="256.74" cy="175.38" r="0.48" fill="#8a8a8a" opacity="0.7"/>
<circle cx="257.29" cy="175.11" r="0.48" fill="#8a8a8a" opacity="0.7"/>
<circle cx="255.72" cy="176.48" r="0.52" fill="#8a8a8a" opacity="0.7"/>
<circle cx="259.13" cy="174.80" r="0.41" fill="#8a8a8a" opacity="0.7"/>
<circle cx="274.30" cy="177.50" r="3.5" fill="url(#sp)" opacity="1.0"/>
<circle cx="272.43" cy="176.77" r="0.56" fill="#8a8a8a" opacity="0.7"/>
<circle cx="274.70" cy="177.96" r="0.46" fill="#8a8a8a" opacity="0.7"/>
<circle cx="275.03" cy="177.86" r="0.37" fill="#8a8a8a" opacity="0.7"/>
<circle cx="273.46" cy="175.98" r="0.57" fill="#8a8a8a" opacity="0.7"/>
<circle cx="255.27" cy="186.08" r="0.93" fill="#c6c6c6" opacity="0.9"/>
<circle cx="255.21" cy="186.91" r="1.08" fill="#c6c6c6" opacity="0.9"/>
<circle cx="255.60" cy="187.26" r="0.80" fill="#c6c6c6" opacity="0.9"/>
<circle cx="256.94" cy="187.45" r="1.02" fill="#c6c6c6" opacity="0.9"/>
<circle cx="255.31" cy="184.66" r="0.86" fill="#c6c6c6" opacity="0.9"/>
<circle cx="256.20" cy="183.48" r="0.76" fill="#c6c6c6" opacity="0.9"/>
<circle cx="258.11" cy="182.60" r="0.88" fill="#c6c6c6" opacity="0.9"/>
<circle cx="256.70" cy="182.59" r="0.77" fill="#c6c6c6" opacity="0.9"/>
<circle cx="257.62" cy="185.06" r="0.63" fill="#c6c6c6" opacity="0.9"/>
<circle cx="259.43" cy="186.44" r="1.09" fill="#c6c6c6" opacity="0.9"/>
<circle cx="255.02" cy="183.83" r="0.62" fill="#c6c6c6" opacity="0.9"/>
<circle cx="275.39" cy="185.35" r="0.66" fill="#c6c6c6" opacity="0.9"/>
<circle cx="273.61" cy="188.56" r="1.01" fill="#c6c6c6" opacity="0.9"/>
<circle cx="272.79" cy="184.75" r="1.06" fill="#c6c6c6" opacity="0.9"/>
<circle cx="274.35" cy="187.50" r="0.64" fill="#c6c6c6" opacity="0.9"/>
<circle cx="271.79" cy="187.44" r="0.81" fill="#c6c6c6" opacity="0.9"/>
<circle cx="271.86" cy="188.69" r="0.92" fill="#c6c6c6" opacity="0.9"/>
<circle cx="275.51" cy="184.42" r="1.03" fill="#c6c6c6" opacity="0.9"/>
<circle cx="271.83" cy="188.31" r="0.83" fill="#c6c6c6" opacity="0.9"/>
<circle cx="273.20" cy="186.77" r="1.06" fill="#c6c6c6" opacity="0.9"/>
<circle cx="272.84" cy="184.65" r="0.86" fill="#c6c6c6" opacity="0.9"/>
<circle cx="272.69" cy="184.55" r="0.68" fill="#c6c6c6" opacity="0.9"/>
<circle cx="256.05" cy="194.40" r="0.59" fill="#c6c6c6" opacity="0.9"/>
<circle cx="256.31" cy="194.96" r="0.59" fill="#c6c6c6" opacity="0.9"/>
<circle cx="272.50" cy="194.68" r="0.60" fill="#c6c6c6" opacity="0.9"/>
<circle cx="272.02" cy="194.75" r="0.50" fill="#c6c6c6" opacity="0.9"/>
<circle cx="290.90" cy="148.50" r="2.48" fill="#b4b4b4" opacity="0.7"/>
<circle cx="290.79" cy="147.48" r="1.05" fill="#c2c2c2" opacity="0.7"/>
<circle cx="289.18" cy="148.77" r="1.00" fill="#c2c2c2" opacity="0.7"/>
<circle cx="291.24" cy="147.77" r="1.24" fill="#c2c2c2" opacity="0.7"/>
<circle cx="291.27" cy="147.87" r="1.24" fill="#c2c2c2" opacity="0.7"/>
<circle cx="290.20" cy="146.81" r="1.14" fill="#c2c2c2" opacity="0.7"/>
<circle cx="291.55" cy="147.36" r="1.32" fill="#c2c2c2" opacity="0.7"/>
<circle cx="290.37" cy="148.86" r="0.96" fill="#c2c2c2" opacity="0.7"/>
<circle cx="290.99" cy="148.60" r="1.39" fill="#c2c2c2" opacity="0.7"/>
<circle cx="290.89" cy="148.73" r="0.43" fill="#7a7a7a" opacity="0.8"/>
<circle cx="291.56" cy="147.48" r="0.67" fill="#7a7a7a" opacity="0.8"/>
<circle cx="290.83" cy="148.83" r="0.52" fill="#7a7a7a" opacity="0.8"/>
<circle cx="304.60" cy="149.30" r="2.64" fill="#b4b4b4" opacity="0.85"/>
<circle cx="304.30" cy="149.38" r="1.28" fill="#c2c2c2" opacity="0.85"/>
<circle cx="304.44" cy="151.20" r="1.63" fill="#c2c2c2" opacity="0.85"/>
<circle cx="304.14" cy="149.16" r="1.63" fill="#c2c2c2" opacity="0.85"/>
<circle cx="304.34" cy="149.96" r="0.99" fill="#c2c2c2" opacity="0.85"/>
<circle cx="303.91" cy="149.94" r="1.32" fill="#c2c2c2" opacity="0.85"/>
<circle cx="304.90" cy="150.25" r="0.99" fill="#c2c2c2" opacity="0.85"/>
<circle cx="304.58" cy="149.48" r="1.25" fill="#c2c2c2" opacity="0.85"/>
<circle cx="304.64" cy="149.31" r="1.19" fill="#c2c2c2" opacity="0.85"/>
<circle cx="304.73" cy="150.45" r="1.34" fill="#c2c2c2" opacity="0.85"/>
<circle cx="304.60" cy="148.32" r="0.69" fill="#7a7a7a" opacity="0.8"/>
<circle cx="305.02" cy="148.90" r="0.53" fill="#7a7a7a" opacity="0.8"/>
<circle cx="304.82" cy="149.28" r="0.69" fill="#7a7a7a" opacity="0.8"/>
<circle cx="304.67" cy="158.95" r="0.75" fill="#c6c6c6" opacity="0.9"/>
<circle cx="304.97" cy="159.65" r="0.72" fill="#c6c6c6" opacity="0.9"/>
<circle cx="307.11" cy="157.24" r="0.66" fill="#c6c6c6" opacity="0.9"/>
<circle cx="306.80" cy="157.93" r="0.74" fill="#c6c6c6" opacity="0.9"/>
<circle cx="308.73" cy="161.08" r="0.77" fill="#c6c6c6" opacity="0.9"/>
<circle cx="308.58" cy="161.19" r="0.57" fill="#c6c6c6" opacity="0.9"/>
<circle cx="291.12" cy="157.63" r="0.57" fill="#c6c6c6" opacity="0.9"/>
<circle cx="307.18" cy="169.07" r="0.67" fill="#c6c6c6" opacity="0.9"/>
<circle cx="307.60" cy="168.90" r="0.70" fill="#c6c6c6" opacity="0.9"/>
<circle cx="307.49" cy="171.10" r="0.74" fill="#c6c6c6" opacity="0.9"/>
<circle cx="307.70" cy="171.50" r="0.66" fill="#c6c6c6" opacity="0.9"/>
<text x="327.00" y="89.60" font-size="8.6" fill="#333" text-anchor="middle" textLength="38.20" lengthAdjust="spacingAndGlyphs" transform="rotate(90 327.0 89.6)" dy="3">− sucrose</text>
<text x="327.20" y="181.30" font-size="8.6" fill="#333" text-anchor="middle" textLength="37.50" lengthAdjust="spacingAndGlyphs" transform="rotate(90 327.2 181.3)" dy="3">+ sucrose</text>
<text x="508.20" y="27.00" font-size="9.3" fill="#333" textLength="42.30" lengthAdjust="spacingAndGlyphs">TR-AM009</text>
<path d="M409.7,29 L649,29 L657.7,34.2 L409.7,34.2 Z" fill="#d5d5d5"/>
<text x="660.50" y="34.20" font-size="8.0" fill="#333" textLength="18.70" lengthAdjust="spacingAndGlyphs" font-style="italic">sacB</text>
<rect x="374.70" y="36.4" width="3.51" height="3.9" fill="#f3e43c"/>
<rect x="378.16" y="36.4" width="3.51" height="3.9" fill="#e83a44"/>
<rect x="381.62" y="36.4" width="3.51" height="3.9" fill="#f3e43c"/>
<rect x="385.08" y="36.4" width="3.51" height="3.9" fill="#3d6cc8"/>
<rect x="388.54" y="36.4" width="3.51" height="3.9" fill="#e83a44"/>
<rect x="392.00" y="36.4" width="3.51" height="3.9" fill="#f3e43c"/>
<rect x="395.46" y="36.4" width="3.51" height="3.9" fill="#f3e43c"/>
<rect x="398.92" y="36.4" width="3.51" height="3.9" fill="#2d9a4a"/>
<rect x="402.38" y="36.4" width="3.51" height="3.9" fill="#e83a44"/>
<rect x="405.84" y="36.4" width="3.51" height="3.9" fill="#f3e43c"/>
<rect x="409.30" y="36.4" width="3.51" height="3.9" fill="#e83a44"/>
<rect x="412.76" y="36.4" width="3.51" height="3.9" fill="#e83a44"/>
<rect x="416.22" y="36.4" width="3.51" height="3.9" fill="#e83a44"/>
<rect x="419.68" y="36.4" width="3.51" height="3.9" fill="#2d9a4a"/>
<rect x="423.14" y="36.4" width="3.51" height="3.9" fill="#e83a44"/>
<rect x="426.60" y="36.4" width="3.51" height="3.9" fill="#2d9a4a"/>
<rect x="430.06" y="36.4" width="3.51" height="3.9" fill="#2d9a4a"/>
<rect x="433.52" y="36.4" width="3.51" height="3.9" fill="#3d6cc8"/>
<rect x="436.98" y="36.4" width="3.51" height="3.9" fill="#3d6cc8"/>
<rect x="440.44" y="36.4" width="3.51" height="3.9" fill="#e83a44"/>
<rect x="443.90" y="36.4" width="3.51" height="3.9" fill="#e83a44"/>
<rect x="447.36" y="36.4" width="3.51" height="3.9" fill="#e83a44"/>
<rect x="450.82" y="36.4" width="3.51" height="3.9" fill="#f3e43c"/>
<rect x="454.29" y="36.4" width="3.51" height="3.9" fill="#e83a44"/>
<rect x="457.75" y="36.4" width="3.51" height="3.9" fill="#3d6cc8"/>
<rect x="461.21" y="36.4" width="3.51" height="3.9" fill="#e83a44"/>
<rect x="464.67" y="36.4" width="3.51" height="3.9" fill="#e83a44"/>
<rect x="468.13" y="36.4" width="3.51" height="3.9" fill="#3d6cc8"/>
<rect x="471.59" y="36.4" width="3.51" height="3.9" fill="#e83a44"/>
<rect x="475.05" y="36.4" width="3.51" height="3.9" fill="#f3e43c"/>
<rect x="478.51" y="36.4" width="3.51" height="3.9" fill="#3d6cc8"/>
<rect x="481.97" y="36.4" width="3.51" height="3.9" fill="#2d9a4a"/>
<rect x="485.43" y="36.4" width="3.51" height="3.9" fill="#e83a44"/>
<rect x="488.89" y="36.4" width="3.51" height="3.9" fill="#f3e43c"/>
<rect x="492.35" y="36.4" width="3.51" height="3.9" fill="#2d9a4a"/>
<rect x="495.81" y="36.4" width="3.51" height="3.9" fill="#e83a44"/>
<rect x="499.27" y="36.4" width="3.51" height="3.9" fill="#2d9a4a"/>
<rect x="502.73" y="36.4" width="3.51" height="3.9" fill="#f3e43c"/>
<rect x="506.19" y="36.4" width="3.51" height="3.9" fill="#2d9a4a"/>
<rect x="509.65" y="36.4" width="3.51" height="3.9" fill="#2d9a4a"/>
<rect x="513.11" y="36.4" width="3.51" height="3.9" fill="#f3e43c"/>
<rect x="516.57" y="36.4" width="3.51" height="3.9" fill="#e83a44"/>
<rect x="520.03" y="36.4" width="3.51" height="3.9" fill="#3d6cc8"/>
<rect x="523.49" y="36.4" width="3.51" height="3.9" fill="#e83a44"/>
<rect x="526.95" y="36.4" width="3.51" height="3.9" fill="#3d6cc8"/>
<rect x="530.41" y="36.4" width="3.51" height="3.9" fill="#e83a44"/>
<rect x="533.87" y="36.4" width="3.51" height="3.9" fill="#3d6cc8"/>
<rect x="537.33" y="36.4" width="3.51" height="3.9" fill="#f3e43c"/>
<rect x="540.79" y="36.4" width="3.51" height="3.9" fill="#2d9a4a"/>
<rect x="544.25" y="36.4" width="3.51" height="3.9" fill="#3d6cc8"/>
<rect x="547.71" y="36.4" width="3.51" height="3.9" fill="#2d9a4a"/>
<rect x="551.17" y="36.4" width="3.51" height="3.9" fill="#e83a44"/>
<rect x="554.63" y="36.4" width="3.51" height="3.9" fill="#f3e43c"/>
<rect x="558.09" y="36.4" width="3.51" height="3.9" fill="#e83a44"/>
<rect x="561.55" y="36.4" width="3.51" height="3.9" fill="#2d9a4a"/>
<rect x="565.01" y="36.4" width="3.51" height="3.9" fill="#2d9a4a"/>
<rect x="568.47" y="36.4" width="3.51" height="3.9" fill="#e83a44"/>
<rect x="571.93" y="36.4" width="3.51" height="3.9" fill="#e83a44"/>
<rect x="575.39" y="36.4" width="3.51" height="3.9" fill="#2d9a4a"/>
<rect x="578.85" y="36.4" width="3.51" height="3.9" fill="#e83a44"/>
<rect x="582.31" y="36.4" width="3.51" height="3.9" fill="#3d6cc8"/>
<rect x="585.77" y="36.4" width="3.51" height="3.9" fill="#2d9a4a"/>
<rect x="589.23" y="36.4" width="3.51" height="3.9" fill="#3d6cc8"/>
<rect x="592.69" y="36.4" width="3.51" height="3.9" fill="#3d6cc8"/>
<rect x="596.15" y="36.4" width="3.51" height="3.9" fill="#e83a44"/>
<rect x="599.61" y="36.4" width="3.51" height="3.9" fill="#2d9a4a"/>
<rect x="603.08" y="36.4" width="3.51" height="3.9" fill="#f3e43c"/>
<rect x="606.54" y="36.4" width="3.51" height="3.9" fill="#2d9a4a"/>
<rect x="610.00" y="36.4" width="3.51" height="3.9" fill="#3d6cc8"/>
<rect x="613.46" y="36.4" width="3.51" height="3.9" fill="#e83a44"/>
<rect x="616.92" y="36.4" width="3.51" height="3.9" fill="#2d9a4a"/>
<rect x="620.38" y="36.4" width="3.51" height="3.9" fill="#e83a44"/>
<rect x="623.84" y="36.4" width="3.51" height="3.9" fill="#f3e43c"/>
<rect x="627.30" y="36.4" width="3.51" height="3.9" fill="#2d9a4a"/>
<rect x="630.76" y="36.4" width="3.51" height="3.9" fill="#e83a44"/>
<rect x="634.22" y="36.4" width="3.51" height="3.9" fill="#e83a44"/>
<rect x="637.68" y="36.4" width="3.51" height="3.9" fill="#2d9a4a"/>
<rect x="641.14" y="36.4" width="3.51" height="3.9" fill="#3d6cc8"/>
<rect x="644.60" y="36.4" width="3.51" height="3.9" fill="#3d6cc8"/>
<rect x="648.06" y="36.4" width="3.51" height="3.9" fill="#e83a44"/>
<rect x="651.52" y="36.4" width="3.51" height="3.9" fill="#e83a44"/>
<rect x="654.98" y="36.4" width="3.51" height="3.9" fill="#f3e43c"/>
<rect x="658.44" y="36.4" width="3.51" height="3.9" fill="#3d6cc8"/>
<rect x="661.90" y="36.4" width="3.51" height="3.9" fill="#e83a44"/>
<rect x="665.36" y="36.4" width="3.51" height="3.9" fill="#3d6cc8"/>
<rect x="668.82" y="36.4" width="3.51" height="3.9" fill="#2d9a4a"/>
<rect x="672.28" y="36.4" width="3.51" height="3.9" fill="#f3e43c"/>
<rect x="675.74" y="36.4" width="3.51" height="3.9" fill="#e83a44"/>
<text x="375.06 378.73 381.98 385.44 389.11 392.36 395.82 399.17 402.95 406.20 409.87 413.33 416.79 419.94 423.71 426.86 430.32 433.88 437.34 441.01 444.47 447.93 451.18 454.85 458.10 461.78 465.24 468.48 472.16 475.40 478.86 482.22 486.00 489.25 492.60 496.38 499.52 503.09 506.44 509.90 513.47 517.14 520.39 524.06 527.31 530.98 534.23 537.69 541.04 544.61 547.96 551.74 554.99 558.66 561.80 565.26 569.04 572.50 575.65 579.42 582.67 586.03 589.59 593.05 596.72 599.87 603.43 606.79 610.35 614.03 617.17 620.95 624.19 627.55 631.33 634.79 637.93 641.50 644.96 648.63 652.09 655.34 658.80 662.47 665.72 669.07 672.64 676.31" y="39.7" font-size="3.8" fill="#333" font-weight="bold">ATACTAAGTATTTGTGGCCTTTATCTTCTACGTAGTGAGGATCTCTCAGCGTATGGTTGTCGCCTGAGCTGTAGTTGCCTTACTCGAT</text>
<rect x="537.43" y="42.90" width="3.26" height="4.1" fill="#2d9a4a"/>
<text x="374.86 378.46 381.78 385.11 388.84 392.16 395.62 398.82 402.68 406.00 409.60 413.06 416.52 419.59 423.44 426.51 429.97 433.56 437.02 440.74 444.20 447.66 450.99 454.58 457.78 461.50 464.96 468.16 471.88 475.21 478.54 481.87 485.72 489.05 492.25 496.10 499.17 502.89 506.09 509.55 513.27 516.86 520.06 523.78 526.98 530.71 533.90 537.49 540.69 544.28 547.61 551.47 554.79 558.39 561.45 564.91 568.77 572.23 575.30 579.15 582.35 585.68 589.27 592.73 596.45 599.52 603.24 606.44 610.03 613.75 616.82 620.67 624.00 627.20 631.05 634.51 637.58 641.17 644.63 648.35 651.81 655.14 658.47 662.19 665.39 668.72 672.44 676.03" y="46.50" font-size="4.7" fill="#7a7a7a">ATACTAAGTATTTGTGGCCTTTATCTTCTACGTAGTGAGGATCTCTCAGCGTATGGTTGTCGCCTGAGCTGTAGTTGCCTTACTCGAT</text>
<rect x="513.21" y="47.40" width="3.26" height="4.1" fill="#e83a44"/>
<rect x="554.73" y="47.40" width="3.26" height="4.1" fill="#e83a44"/>
<text x="374.86 378.46 381.78 385.11 388.84 392.16 395.62 398.82 402.68 406.00 409.60 413.06 416.52 419.59 423.44 426.51 429.97 433.56 437.02 440.74 444.20 447.66 450.99 454.58 457.78 461.50 464.96 468.16 471.88 475.21 478.54 481.87 485.72 489.05 492.25 496.10 499.17 502.89 506.09 509.55 513.27 516.86 520.06 523.78 526.98 530.71 533.90 537.49 540.69 544.28 547.61 551.47 554.79 558.39 561.45 564.91 568.77 572.23 575.30 579.15 582.35 585.68 589.27 592.73 596.45 599.52 603.24 606.44 610.03 613.75 616.82 620.67 624.00 627.20 631.05 634.51 637.58 641.17 644.63 648.35 651.81 655.14 658.47 662.19 665.39 668.72 672.44 676.03" y="51.00" font-size="4.7" fill="#7a7a7a">ATACTAAGTATTTGTGGCCTTTATCTTCTACGTAGTGAGGATCTCTCAGCGTATGGTTGTCGCCTGAGCTGTAGTTGCCTTACTCGAT</text>
<rect x="475.15" y="51.90" width="3.26" height="4.1" fill="#2d9a4a"/>
<rect x="513.21" y="51.90" width="3.26" height="4.1" fill="#3d6cc8"/>
<rect x="554.73" y="51.90" width="3.26" height="4.1" fill="#e83a44"/>
<text x="374.86 378.46 381.78 385.11 388.84 392.16 395.62 398.82 402.68 406.00 409.60 413.06 416.52 419.59 423.44 426.51 429.97 433.56 437.02 440.74 444.20 447.66 450.99 454.58 457.78 461.50 464.96 468.16 471.88 475.21 478.54 481.87 485.72 489.05 492.25 496.10 499.17 502.89 506.09 509.55 513.27 516.86 520.06 523.78 526.98 530.71 533.90 537.49 540.69 544.28 547.61 551.47 554.79 558.39 561.45 564.91 568.77 572.23 575.30 579.15 582.35 585.68 589.27 592.73 596.45 599.52 603.24 606.44 610.03 613.75 616.82 620.67 624.00 627.20 631.05 634.51 637.58 641.17 644.63 648.35 651.81 655.14 658.47 662.19 665.39 668.72 672.44 676.03" y="55.50" font-size="4.7" fill="#7a7a7a">ATACTAAGTATTTGTGGCCTTTATCTTCTACGTAGTGAGGATCTCTCAGCGTATGGTTGTCGCCTGAGCTGTAGTTGCCTTACTCGAT</text>
<rect x="475.15" y="56.40" width="3.26" height="4.1" fill="#2d9a4a"/>
<rect x="513.21" y="56.40" width="3.26" height="4.1" fill="#e83a44"/>
<rect x="537.43" y="56.40" width="3.26" height="4.1" fill="#2d9a4a"/>
<rect x="554.73" y="56.40" width="3.26" height="4.1" fill="#2d9a4a"/>
<rect x="603.18" y="56.40" width="3.26" height="4.1" fill="#2d9a4a"/>
<text x="374.86 378.46 381.78 385.11 388.84 392.16 395.62 398.82 402.68 406.00 409.60 413.06 416.52 419.59 423.44 426.51 429.97 433.56 437.02 440.74 444.20 447.66 450.99 454.58 457.78 461.50 464.96 468.16 471.88 475.21 478.54 481.87 485.72 489.05 492.25 496.10 499.17 502.89 506.09 509.55 513.27 516.86 520.06 523.78 526.98 530.71 533.90 537.49 540.69 544.28 547.61 551.47 554.79 558.39 561.45 564.91 568.77 572.23 575.30 579.15 582.35 585.68 589.27 592.73 596.45 599.52 603.24 606.44 610.03 613.75 616.82 620.67 624.00 627.20 631.05 634.51 637.58 641.17 644.63 648.35 651.81 655.14 658.47 662.19 665.39 668.72 672.44 676.03" y="60.00" font-size="4.7" fill="#7a7a7a">ATACTAAGTATTTGTGGCCTTTATCTTCTACGTAGTGAGGATCTCTCAGCGTATGGTTGTCGCCTGAGCTGTAGTTGCCTTACTCGAT</text>
<rect x="450.93" y="60.90" width="3.26" height="4.1" fill="#e83a44"/>
<rect x="488.99" y="60.90" width="3.26" height="4.1" fill="#2d9a4a"/>
<text x="374.86 378.46 381.78 385.11 388.84 392.16 395.62 398.82 402.68 406.00 409.60 413.06 416.52 419.59 423.44 426.51 429.97 433.56 437.02 440.74 444.20 447.66 450.99 454.58 457.78 461.50 464.96 468.16 471.88 475.21 478.54 481.87 485.72 489.05 492.25 496.10 499.17 502.89 506.09 509.55 513.27 516.86 520.06 523.78 526.98 530.71 533.90 537.49 540.69 544.28 547.61 551.47 554.79 558.39 561.45 564.91 568.77 572.23 575.30 579.15 582.35 585.68 589.27 592.73 596.45 599.52 603.24 606.44 610.03 613.75 616.82 620.67 624.00 627.20 631.05 634.51 637.58 641.17 644.63 648.35 651.81 655.14 658.47 662.19 665.39 668.72 672.44 676.03" y="64.50" font-size="4.7" fill="#7a7a7a">ATACTAAGTATTTGTGGCCTTTATCTTCTACGTAGTGAGGATCTCTCAGCGTATGGTTGTCGCCTGAGCTGTAGTTGCCTTACTCGAT</text>
<rect x="488.99" y="65.40" width="3.26" height="4.1" fill="#2d9a4a"/>
<rect x="554.73" y="65.40" width="3.26" height="4.1" fill="#3d6cc8"/>
<text x="374.86 378.46 381.78 385.11 388.84 392.16 395.62 398.82 402.68 406.00 409.60 413.06 416.52 419.59 423.44 426.51 429.97 433.56 437.02 440.74 444.20 447.66 450.99 454.58 457.78 461.50 464.96 468.16 471.88 475.21 478.54 481.87 485.72 489.05 492.25 496.10 499.17 502.89 506.09 509.55 513.27 516.86 520.06 523.78 526.98 530.71 533.90 537.49 540.69 544.28 547.61 551.47 554.79 558.39 561.45 564.91 568.77 572.23 575.30 579.15 582.35 585.68 589.27 592.73 596.45 599.52 603.24 606.44 610.03 613.75 616.82 620.67 624.00 627.20 631.05 634.51 637.58 641.17 644.63 648.35 651.81 655.14 658.47 662.19 665.39 668.72 672.44 676.03" y="69.00" font-size="4.7" fill="#7a7a7a">ATACTAAGTATTTGTGGCCTTTATCTTCTACGTAGTGAGGATCTCTCAGCGTATGGTTGTCGCCTGAGCTGTAGTTGCCTTACTCGAT</text>
<rect x="513.21" y="69.90" width="3.26" height="4.1" fill="#e83a44"/>
<rect x="516.67" y="69.90" width="3.26" height="4.1" fill="#3d6cc8"/>
<rect x="554.73" y="69.90" width="3.26" height="4.1" fill="#e83a44"/>
<text x="374.86 378.46 381.78 385.11 388.84 392.16 395.62 398.82 402.68 406.00 409.60 413.06 416.52 419.59 423.44 426.51 429.97 433.56 437.02 440.74 444.20 447.66 450.99 454.58 457.78 461.50 464.96 468.16 471.88 475.21 478.54 481.87 485.72 489.05 492.25 496.10 499.17 502.89 506.09 509.55 513.27 516.86 520.06 523.78 526.98 530.71 533.90 537.49 540.69 544.28 547.61 551.47 554.79 558.39 561.45 564.91 568.77 572.23 575.30 579.15 582.35 585.68 589.27 592.73 596.45 599.52 603.24 606.44 610.03 613.75 616.82 620.67 624.00 627.20 631.05 634.51 637.58 641.17 644.63 648.35 651.81 655.14 658.47 662.19 665.39 668.72 672.44 676.03" y="73.50" font-size="4.7" fill="#7a7a7a">ATACTAAGTATTTGTGGCCTTTATCTTCTACGTAGTGAGGATCTCTCAGCGTATGGTTGTCGCCTGAGCTGTAGTTGCCTTACTCGAT</text>
<line x1="413.1" y1="75.0" x2="439.3" y2="101.8" stroke="#444" stroke-width="0.7"/>
<line x1="655.2" y1="75.5" x2="628.4" y2="102.1" stroke="#444" stroke-width="0.7"/>
<rect x="440.0" y="104.8" width="188.4" height="101.2" fill="#d1dce3"/>
<line x1="376" y1="156.1" x2="680" y2="156.1" stroke="#cfcfcf" stroke-width="0.5" stroke-dasharray="2,1.5"/>
<rect x="636.5" y="106.5" width="42.5" height="70" fill="#fff"/>
<text x="381.70" y="118.00" font-size="8.6" fill="#333" textLength="44.10" lengthAdjust="spacingAndGlyphs">Outside VR</text>
<text x="445.60" y="118.80" font-size="8.6" fill="#333" textLength="37.50" lengthAdjust="spacingAndGlyphs">Inside VR</text>
<line x1="375.6" y1="105" x2="375.6" y2="206.3" stroke="#555" stroke-width="0.8"/>
<line x1="375.6" y1="206.3" x2="679.5" y2="206.3" stroke="#555" stroke-width="0.8"/>
<line x1="372.6" y1="106.0" x2="375.6" y2="106.0" stroke="#555" stroke-width="0.7"/>
<text x="371.30" y="108.80" font-size="7.6" fill="#333" text-anchor="end">4</text>
<line x1="372.6" y1="156.1" x2="375.6" y2="156.1" stroke="#555" stroke-width="0.7"/>
<text x="371.30" y="158.90" font-size="7.6" fill="#333" text-anchor="end">2</text>
<line x1="372.6" y1="206.2" x2="375.6" y2="206.2" stroke="#555" stroke-width="0.7"/>
<text x="371.30" y="209.00" font-size="7.6" fill="#333" text-anchor="end">0</text>
<text x="356.90" y="155.30" font-size="8.6" fill="#333" text-anchor="middle" textLength="66.00" lengthAdjust="spacingAndGlyphs" transform="rotate(-90 356.9 155.3)" dy="3">% mutated UMIs</text>
<path d="M377.20,206.3 v1.6 M379.93,206.3 v1.6 M382.66,206.3 v1.6 M385.40,206.3 v1.6 M388.13,206.3 v1.6 M390.86,206.3 v1.6 M393.59,206.3 v1.6 M396.32,206.3 v1.6 M399.06,206.3 v1.6 M401.79,206.3 v1.6 M404.52,206.3 v1.6 M407.25,206.3 v1.6 M409.98,206.3 v1.6 M412.72,206.3 v1.6 M415.45,206.3 v1.6 M418.18,206.3 v1.6 M420.91,206.3 v1.6 M423.64,206.3 v1.6 M426.38,206.3 v1.6 M429.11,206.3 v1.6 M431.84,206.3 v1.6 M434.57,206.3 v1.6 M437.30,206.3 v1.6 M440.04,206.3 v1.6 M442.77,206.3 v1.6 M445.50,206.3 v1.6 M448.23,206.3 v1.6 M450.96,206.3 v1.6 M453.70,206.3 v1.6 M456.43,206.3 v1.6 M459.16,206.3 v1.6 M461.89,206.3 v1.6 M464.62,206.3 v1.6 M467.36,206.3 v1.6 M470.09,206.3 v1.6 M472.82,206.3 v1.6 M475.55,206.3 v1.6 M478.28,206.3 v1.6 M481.02,206.3 v1.6 M483.75,206.3 v1.6 M486.48,206.3 v1.6 M489.21,206.3 v1.6 M491.94,206.3 v1.6 M494.68,206.3 v1.6 M497.41,206.3 v1.6 M500.14,206.3 v1.6 M502.87,206.3 v1.6 M505.60,206.3 v1.6 M508.34,206.3 v1.6 M511.07,206.3 v1.6 M513.80,206.3 v1.6 M516.53,206.3 v1.6 M519.26,206.3 v1.6 M522.00,206.3 v1.6 M524.73,206.3 v1.6 M527.46,206.3 v1.6 M530.19,206.3 v1.6 M532.92,206.3 v1.6 M535.66,206.3 v1.6 M538.39,206.3 v1.6 M541.12,206.3 v1.6 M543.85,206.3 v1.6 M546.58,206.3 v1.6 M549.32,206.3 v1.6 M552.05,206.3 v1.6 M554.78,206.3 v1.6 M557.51,206.3 v1.6 M560.24,206.3 v1.6 M562.98,206.3 v1.6 M565.71,206.3 v1.6 M568.44,206.3 v1.6 M571.17,206.3 v1.6 M573.90,206.3 v1.6 M576.64,206.3 v1.6 M579.37,206.3 v1.6 M582.10,206.3 v1.6 M584.83,206.3 v1.6 M587.56,206.3 v1.6 M590.30,206.3 v1.6 M593.03,206.3 v1.6 M595.76,206.3 v1.6 M598.49,206.3 v1.6 M601.22,206.3 v1.6 M603.96,206.3 v1.6 M606.69,206.3 v1.6 M609.42,206.3 v1.6 M612.15,206.3 v1.6 M614.88,206.3 v1.6 M617.62,206.3 v1.6 M620.35,206.3 v1.6 M623.08,206.3 v1.6 M625.81,206.3 v1.6 M628.54,206.3 v1.6 M631.28,206.3 v1.6 M634.01,206.3 v1.6 M636.74,206.3 v1.6 M639.47,206.3 v1.6 M642.20,206.3 v1.6 M644.94,206.3 v1.6 M647.67,206.3 v1.6 M650.40,206.3 v1.6 M653.13,206.3 v1.6 M655.86,206.3 v1.6 M658.60,206.3 v1.6 M661.33,206.3 v1.6 M664.06,206.3 v1.6 M666.79,206.3 v1.6 M669.52,206.3 v1.6 M672.26,206.3 v1.6 M674.99,206.3 v1.6 M677.72,206.3 v1.6" stroke="#555" stroke-width="0.5"/>
<text x="375.83 378.18 381.29 384.02 386.75 389.11 391.97 394.95 397.68 400.04 402.90 405.63 408.36 411.34 413.82 416.56 419.54 422.02 424.75 427.36 430.47 432.95 435.93 438.66 441.39 443.75 446.86 449.21 451.95 454.80 457.54 460.52 463.25 465.98 468.46 471.45 473.93 476.91 479.64 482.12 485.11 487.59 490.32 492.93 496.03 498.52 501.12 504.23 506.59 509.44 512.05 514.78 517.64 520.62 523.10 526.09 528.57 531.55 534.03 536.76 539.37 542.23 544.83 547.94 550.42 553.41 555.76 558.49 561.60 564.33 566.69 569.80 572.28 574.89 577.74 580.48 583.46 585.81 588.67 591.28 594.14 597.12 599.47 602.58 605.06 607.67 610.78 613.51 615.87 618.72 621.46 624.44 627.17 629.65 632.38 635.37 637.85 640.45 643.31 646.29 648.65 651.51 654.24 656.97 659.95 662.31 665.17 668.15 670.51 673.61 676.10" y="212.3" font-size="4.5" fill="#2a2a2a" font-weight="bold">TGTTTGCTTGAAATACTAAGTATTTGTGGCCTTTATCTTCTACGTAGTGAGGATCTCTCAGCGTATGGTTGTCGCCTGAGCTGTAGTTGCCTTCATCGATGAACTGCTGTA</text>
<text x="530.20" y="224.30" font-size="7.8" fill="#333" text-anchor="middle" textLength="178.60" lengthAdjust="spacingAndGlyphs">Chromosomal region around the targeted sacB gene</text>
<rect x="458.16" y="205.40" width="2.0" height="0.80" fill="#3a5fb8"/>
<rect x="458.16" y="204.60" width="2.0" height="0.80" fill="#16753b"/>
<rect x="460.89" y="204.60" width="2.0" height="1.60" fill="#16753b"/>
<rect x="466.36" y="204.60" width="2.0" height="1.60" fill="#222"/>
<rect x="466.36" y="196.00" width="2.0" height="8.60" fill="#16753b"/>
<rect x="469.09" y="205.00" width="2.0" height="1.20" fill="#8a8a8a"/>
<rect x="469.09" y="197.90" width="2.0" height="7.10" fill="#3a5fb8"/>
<rect x="469.09" y="181.70" width="2.0" height="16.20" fill="#16753b"/>
<rect x="469.09" y="164.00" width="2.0" height="17.70" fill="#e32d3c"/>
<rect x="471.82" y="204.80" width="2.0" height="1.40" fill="#16753b"/>
<rect x="474.55" y="205.20" width="2.0" height="1.00" fill="#222"/>
<rect x="474.55" y="204.80" width="2.0" height="0.40" fill="#e32d3c"/>
<rect x="477.28" y="205.30" width="2.0" height="0.90" fill="#3a5fb8"/>
<rect x="477.28" y="201.50" width="2.0" height="3.80" fill="#16753b"/>
<rect x="477.28" y="201.00" width="2.0" height="0.50" fill="#e3a234"/>
<rect x="480.02" y="204.80" width="2.0" height="1.40" fill="#16753b"/>
<rect x="482.75" y="205.60" width="2.0" height="0.60" fill="#222"/>
<rect x="485.48" y="205.20" width="2.0" height="1.00" fill="#222"/>
<rect x="485.48" y="188.00" width="2.0" height="17.20" fill="#16753b"/>
<rect x="488.21" y="195.30" width="2.0" height="10.90" fill="#3a5fb8"/>
<rect x="488.21" y="170.10" width="2.0" height="25.20" fill="#16753b"/>
<rect x="488.21" y="164.80" width="2.0" height="5.30" fill="#e32d3c"/>
<rect x="490.94" y="205.60" width="2.0" height="0.60" fill="#e3a234"/>
<rect x="493.68" y="205.50" width="2.0" height="0.70" fill="#e32d3c"/>
<rect x="496.41" y="204.50" width="2.0" height="1.70" fill="#16753b"/>
<rect x="499.14" y="205.00" width="2.0" height="1.20" fill="#3a5fb8"/>
<rect x="499.14" y="145.80" width="2.0" height="59.20" fill="#16753b"/>
<rect x="499.14" y="142.70" width="2.0" height="3.10" fill="#e32d3c"/>
<rect x="501.87" y="205.40" width="2.0" height="0.80" fill="#16753b"/>
<rect x="504.60" y="205.50" width="2.0" height="0.70" fill="#e32d3c"/>
<rect x="510.07" y="164.90" width="2.0" height="41.30" fill="#16753b"/>
<rect x="510.07" y="158.50" width="2.0" height="6.40" fill="#e32d3c"/>
<rect x="512.80" y="205.40" width="2.0" height="0.80" fill="#16753b"/>
<rect x="518.26" y="204.80" width="2.0" height="1.40" fill="#222"/>
<rect x="518.26" y="194.70" width="2.0" height="10.10" fill="#3a5fb8"/>
<rect x="518.26" y="168.00" width="2.0" height="26.70" fill="#16753b"/>
<rect x="518.26" y="133.80" width="2.0" height="34.20" fill="#e32d3c"/>
<rect x="521.00" y="203.60" width="2.0" height="2.60" fill="#16753b"/>
<rect x="523.73" y="205.20" width="2.0" height="1.00" fill="#e32d3c"/>
<rect x="526.46" y="204.60" width="2.0" height="1.60" fill="#16753b"/>
<rect x="526.46" y="204.20" width="2.0" height="0.40" fill="#e32d3c"/>
<rect x="529.19" y="205.20" width="2.0" height="1.00" fill="#16753b"/>
<rect x="537.39" y="170.70" width="2.0" height="35.50" fill="#16753b"/>
<rect x="537.39" y="168.20" width="2.0" height="2.50" fill="#e32d3c"/>
<rect x="542.85" y="205.50" width="2.0" height="0.70" fill="#16753b"/>
<rect x="548.32" y="205.00" width="2.0" height="1.20" fill="#222"/>
<rect x="548.32" y="196.70" width="2.0" height="8.30" fill="#16753b"/>
<rect x="551.05" y="196.20" width="2.0" height="10.00" fill="#3a5fb8"/>
<rect x="551.05" y="140.00" width="2.0" height="56.20" fill="#16753b"/>
<rect x="551.05" y="109.40" width="2.0" height="30.60" fill="#e32d3c"/>
<rect x="553.78" y="205.30" width="2.0" height="0.90" fill="#16753b"/>
<rect x="561.98" y="205.00" width="2.0" height="1.20" fill="#16753b"/>
<rect x="570.17" y="205.40" width="2.0" height="0.80" fill="#16753b"/>
<rect x="578.37" y="205.50" width="2.0" height="0.70" fill="#e32d3c"/>
<rect x="589.30" y="192.10" width="2.0" height="14.10" fill="#16753b"/>
<rect x="589.30" y="190.30" width="2.0" height="1.80" fill="#e32d3c"/>
<rect x="597.49" y="205.50" width="2.0" height="0.70" fill="#16753b"/>
<rect x="605.69" y="200.50" width="2.0" height="5.70" fill="#16753b"/>
<rect x="605.69" y="200.00" width="2.0" height="0.50" fill="#e32d3c"/>
<rect x="616.62" y="205.50" width="2.0" height="0.70" fill="#16753b"/>
<rect x="660.33" y="205.50" width="2.0" height="0.70" fill="#e32d3c"/>
<rect x="665.79" y="205.50" width="2.0" height="0.70" fill="#e3a234"/>
<rect x="668.52" y="205.50" width="2.0" height="0.70" fill="#e3a234"/>
<rect x="676.72" y="204.60" width="2.0" height="1.60" fill="#e32d3c"/>
<rect x="378.93" y="205.60" width="2.0" height="0.60" fill="#e3a234"/>
<rect x="428.11" y="205.60" width="2.0" height="0.60" fill="#e32d3c"/>
<rect x="507.34" y="205.60" width="2.0" height="0.60" fill="#e32d3c"/>
<text x="640.00" y="116.20" font-size="7.9" fill="#333" textLength="38.80" lengthAdjust="spacingAndGlyphs">Nucleotide</text>
<rect x="644.3" y="119.00" width="8.0" height="7.4" fill="#e3a234"/>
<text x="656.30" y="125.40" font-size="7.6" fill="#333">A</text>
<rect x="644.3" y="128.80" width="8.0" height="7.4" fill="#e32d3c"/>
<text x="656.30" y="135.20" font-size="7.6" fill="#333">T</text>
<rect x="644.3" y="138.60" width="8.0" height="7.4" fill="#16753b"/>
<text x="656.30" y="145.00" font-size="7.6" fill="#333">G</text>
<rect x="644.3" y="148.40" width="8.0" height="7.4" fill="#3a5fb8"/>
<text x="656.30" y="154.80" font-size="7.6" fill="#333">C</text>
<rect x="644.3" y="158.20" width="8.0" height="7.4" fill="#8a8a8a"/>
<text x="656.30" y="164.60" font-size="7.6" fill="#333">del</text>
<rect x="644.3" y="168.00" width="8.0" height="7.4" fill="#222"/>
<text x="656.30" y="174.40" font-size="7.6" fill="#333">ins</text>
<text x="97.60" y="259.20" font-size="8.7" fill="#333" textLength="110.00" lengthAdjust="spacingAndGlyphs">Programmed diversification</text>
<rect x="32.60" y="267.0" width="94.30" height="10.3" fill="#f4f4f4"/>
<rect x="32.60" y="284.0" width="94.30" height="10.5" fill="#dce6ee"/>
<text x="28.70" y="274.80" font-size="7.6" fill="#333" text-anchor="end">TR</text>
<text x="28.70" y="291.50" font-size="7.6" fill="#333" text-anchor="end">VR</text>
<text x="26.90" y="282.30" font-size="6.0" fill="#333" text-anchor="middle">=</text>
<text x="49.00" y="274.70" font-size="7.6" fill="#333" text-anchor="middle" textLength="14.50" lengthAdjust="spacingAndGlyphs">AAC</text>
<text x="49.00" y="291.40" font-size="7.6" fill="#333" text-anchor="middle" textLength="14.50" lengthAdjust="spacingAndGlyphs">AAC</text>
<text x="49.50" y="310.70" font-size="7.6" fill="#333" text-anchor="middle">14</text>
<text x="80.60" y="274.70" font-size="7.6" fill="#333" text-anchor="middle" textLength="14.50" lengthAdjust="spacingAndGlyphs">GTG</text>
<text x="80.60" y="291.40" font-size="7.6" fill="#333" text-anchor="middle" textLength="14.50" lengthAdjust="spacingAndGlyphs">GTG</text>
<text x="81.10" y="310.70" font-size="7.6" fill="#333" text-anchor="middle">3</text>
<text x="110.80" y="274.70" font-size="7.6" fill="#333" text-anchor="middle" textLength="14.50" lengthAdjust="spacingAndGlyphs">ATC</text>
<text x="110.80" y="291.40" font-size="7.6" fill="#333" text-anchor="middle" textLength="14.50" lengthAdjust="spacingAndGlyphs">ATC</text>
<text x="111.30" y="310.70" font-size="7.6" fill="#333" text-anchor="middle">14</text>
<rect x="35.20" y="302.5" width="91.70" height="98.3" fill="none" stroke="#555" stroke-width="0.8"/>
<line x1="32.60" y1="302.50" x2="35.20" y2="302.50" stroke="#555" stroke-width="0.6"/>
<path d="M33.70,316.24 H35.20 M33.70,312.78 H35.20 M33.70,310.32 H35.20 M33.70,308.42 H35.20 M33.70,306.86 H35.20 M33.70,305.55 H35.20 M33.70,304.41 H35.20 M33.70,303.40 H35.20 " stroke="#666" stroke-width="0.4"/>
<text x="23.60" y="305.80" font-size="7.0" fill="#333" text-anchor="end" textLength="7.3" lengthAdjust="spacingAndGlyphs">10</text>
<text x="23.90" y="302.00" font-size="4.6" fill="#333" textLength="4.2" lengthAdjust="spacingAndGlyphs">−1</text>
<line x1="36.20" y1="322.16" x2="125.90" y2="322.16" stroke="#d6d6d6" stroke-width="0.5" stroke-dasharray="2.2,3"/>
<line x1="32.60" y1="322.16" x2="35.20" y2="322.16" stroke="#555" stroke-width="0.6"/>
<path d="M33.70,335.90 H35.20 M33.70,332.44 H35.20 M33.70,329.98 H35.20 M33.70,328.08 H35.20 M33.70,326.52 H35.20 M33.70,325.21 H35.20 M33.70,324.07 H35.20 M33.70,323.06 H35.20 " stroke="#666" stroke-width="0.4"/>
<text x="23.60" y="325.46" font-size="7.0" fill="#333" text-anchor="end" textLength="7.3" lengthAdjust="spacingAndGlyphs">10</text>
<text x="23.90" y="321.66" font-size="4.6" fill="#333" textLength="4.2" lengthAdjust="spacingAndGlyphs">−2</text>
<line x1="36.20" y1="341.82" x2="125.90" y2="341.82" stroke="#d6d6d6" stroke-width="0.5" stroke-dasharray="2.2,3"/>
<line x1="32.60" y1="341.82" x2="35.20" y2="341.82" stroke="#555" stroke-width="0.6"/>
<path d="M33.70,355.56 H35.20 M33.70,352.10 H35.20 M33.70,349.64 H35.20 M33.70,347.74 H35.20 M33.70,346.18 H35.20 M33.70,344.87 H35.20 M33.70,343.73 H35.20 M33.70,342.72 H35.20 " stroke="#666" stroke-width="0.4"/>
<text x="23.60" y="345.12" font-size="7.0" fill="#333" text-anchor="end" textLength="7.3" lengthAdjust="spacingAndGlyphs">10</text>
<text x="23.90" y="341.32" font-size="4.6" fill="#333" textLength="4.2" lengthAdjust="spacingAndGlyphs">−3</text>
<line x1="36.20" y1="361.48" x2="125.90" y2="361.48" stroke="#d6d6d6" stroke-width="0.5" stroke-dasharray="2.2,3"/>
<line x1="32.60" y1="361.48" x2="35.20" y2="361.48" stroke="#555" stroke-width="0.6"/>
<path d="M33.70,375.22 H35.20 M33.70,371.76 H35.20 M33.70,369.30 H35.20 M33.70,367.40 H35.20 M33.70,365.84 H35.20 M33.70,364.53 H35.20 M33.70,363.39 H35.20 M33.70,362.38 H35.20 " stroke="#666" stroke-width="0.4"/>
<text x="23.60" y="364.78" font-size="7.0" fill="#333" text-anchor="end" textLength="7.3" lengthAdjust="spacingAndGlyphs">10</text>
<text x="23.90" y="360.98" font-size="4.6" fill="#333" textLength="4.2" lengthAdjust="spacingAndGlyphs">−4</text>
<line x1="36.20" y1="381.14" x2="125.90" y2="381.14" stroke="#d6d6d6" stroke-width="0.5" stroke-dasharray="2.2,3"/>
<line x1="32.60" y1="381.14" x2="35.20" y2="381.14" stroke="#555" stroke-width="0.6"/>
<path d="M33.70,394.88 H35.20 M33.70,391.42 H35.20 M33.70,388.96 H35.20 M33.70,387.06 H35.20 M33.70,385.50 H35.20 M33.70,384.19 H35.20 M33.70,383.05 H35.20 M33.70,382.04 H35.20 " stroke="#666" stroke-width="0.4"/>
<text x="23.60" y="384.44" font-size="7.0" fill="#333" text-anchor="end" textLength="7.3" lengthAdjust="spacingAndGlyphs">10</text>
<text x="23.90" y="380.64" font-size="4.6" fill="#333" textLength="4.2" lengthAdjust="spacingAndGlyphs">−5</text>
<line x1="32.60" y1="400.80" x2="35.20" y2="400.80" stroke="#555" stroke-width="0.6"/>
<text x="23.60" y="404.10" font-size="7.0" fill="#333" text-anchor="end" textLength="7.3" lengthAdjust="spacingAndGlyphs">10</text>
<text x="23.90" y="400.30" font-size="4.6" fill="#333" textLength="4.2" lengthAdjust="spacingAndGlyphs">−6</text>
<line x1="49.00" y1="400.8" x2="49.00" y2="403.3" stroke="#555" stroke-width="0.6"/>
<line x1="80.60" y1="400.8" x2="80.60" y2="403.3" stroke="#555" stroke-width="0.6"/>
<line x1="110.80" y1="400.8" x2="110.80" y2="403.3" stroke="#555" stroke-width="0.6"/>
<text x="49.00" y="413.50" font-size="7.6" fill="#333" text-anchor="middle">N</text>
<text x="80.60" y="413.50" font-size="7.6" fill="#333" text-anchor="middle">V</text>
<text x="110.80" y="413.50" font-size="7.6" fill="#333" text-anchor="middle">I</text>
<rect x="175.40" y="267.0" width="93.30" height="10.3" fill="#f4f4f4"/>
<rect x="175.40" y="284.0" width="93.30" height="10.5" fill="#dce6ee"/>
<text x="171.50" y="274.80" font-size="7.6" fill="#333" text-anchor="end">TR</text>
<text x="171.50" y="291.50" font-size="7.6" fill="#333" text-anchor="end">VR</text>
<text x="169.70" y="282.30" font-size="6.0" fill="#333" text-anchor="middle">≠</text>
<text x="194.20" y="274.70" font-size="7.6" fill="#333" text-anchor="middle" textLength="14.50" lengthAdjust="spacingAndGlyphs">AAC</text>
<text x="194.20" y="291.40" font-size="7.6" fill="#333" text-anchor="middle" textLength="14.50" lengthAdjust="spacingAndGlyphs">AAC</text>
<text x="194.70" y="310.70" font-size="7.6" fill="#333" text-anchor="middle">15</text>
<text x="222.40" y="274.7" font-size="7.6" text-anchor="middle" textLength="14.5" lengthAdjust="spacingAndGlyphs"><tspan fill="#e0303c">A</tspan><tspan fill="#e0303c">A</tspan><tspan fill="#e0303c">T</tspan></text>
<text x="222.40" y="291.40" font-size="7.6" fill="#333" text-anchor="middle" textLength="14.50" lengthAdjust="spacingAndGlyphs">GTG</text>
<text x="222.90" y="310.70" font-size="7.6" fill="#333" text-anchor="middle">17</text>
<text x="253.30" y="274.7" font-size="7.6" text-anchor="middle" textLength="14.5" lengthAdjust="spacingAndGlyphs"><tspan fill="#333">A</tspan><tspan fill="#e0303c">A</tspan><tspan fill="#333">C</tspan></text>
<text x="253.30" y="291.40" font-size="7.6" fill="#333" text-anchor="middle" textLength="14.50" lengthAdjust="spacingAndGlyphs">ATC</text>
<text x="253.80" y="310.70" font-size="7.6" fill="#333" text-anchor="middle">14</text>
<rect x="178.00" y="302.5" width="90.70" height="98.3" fill="none" stroke="#555" stroke-width="0.8"/>
<line x1="175.40" y1="302.50" x2="178.00" y2="302.50" stroke="#555" stroke-width="0.6"/>
<path d="M176.50,316.24 H178.00 M176.50,312.78 H178.00 M176.50,310.32 H178.00 M176.50,308.42 H178.00 M176.50,306.86 H178.00 M176.50,305.55 H178.00 M176.50,304.41 H178.00 M176.50,303.40 H178.00 " stroke="#666" stroke-width="0.4"/>
<text x="166.40" y="305.80" font-size="7.0" fill="#333" text-anchor="end" textLength="7.3" lengthAdjust="spacingAndGlyphs">10</text>
<text x="166.70" y="302.00" font-size="4.6" fill="#333" textLength="4.2" lengthAdjust="spacingAndGlyphs">−1</text>
<line x1="179.00" y1="322.16" x2="267.70" y2="322.16" stroke="#d6d6d6" stroke-width="0.5" stroke-dasharray="2.2,3"/>
<line x1="175.40" y1="322.16" x2="178.00" y2="322.16" stroke="#555" stroke-width="0.6"/>
<path d="M176.50,335.90 H178.00 M176.50,332.44 H178.00 M176.50,329.98 H178.00 M176.50,328.08 H178.00 M176.50,326.52 H178.00 M176.50,325.21 H178.00 M176.50,324.07 H178.00 M176.50,323.06 H178.00 " stroke="#666" stroke-width="0.4"/>
<text x="166.40" y="325.46" font-size="7.0" fill="#333" text-anchor="end" textLength="7.3" lengthAdjust="spacingAndGlyphs">10</text>
<text x="166.70" y="321.66" font-size="4.6" fill="#333" textLength="4.2" lengthAdjust="spacingAndGlyphs">−2</text>
<line x1="179.00" y1="341.82" x2="267.70" y2="341.82" stroke="#d6d6d6" stroke-width="0.5" stroke-dasharray="2.2,3"/>
<line x1="175.40" y1="341.82" x2="178.00" y2="341.82" stroke="#555" stroke-width="0.6"/>
<path d="M176.50,355.56 H178.00 M176.50,352.10 H178.00 M176.50,349.64 H178.00 M176.50,347.74 H178.00 M176.50,346.18 H178.00 M176.50,344.87 H178.00 M176.50,343.73 H178.00 M176.50,342.72 H178.00 " stroke="#666" stroke-width="0.4"/>
<text x="166.40" y="345.12" font-size="7.0" fill="#333" text-anchor="end" textLength="7.3" lengthAdjust="spacingAndGlyphs">10</text>
<text x="166.70" y="341.32" font-size="4.6" fill="#333" textLength="4.2" lengthAdjust="spacingAndGlyphs">−3</text>
<line x1="179.00" y1="361.48" x2="267.70" y2="361.48" stroke="#d6d6d6" stroke-width="0.5" stroke-dasharray="2.2,3"/>
<line x1="175.40" y1="361.48" x2="178.00" y2="361.48" stroke="#555" stroke-width="0.6"/>
<path d="M176.50,375.22 H178.00 M176.50,371.76 H178.00 M176.50,369.30 H178.00 M176.50,367.40 H178.00 M176.50,365.84 H178.00 M176.50,364.53 H178.00 M176.50,363.39 H178.00 M176.50,362.38 H178.00 " stroke="#666" stroke-width="0.4"/>
<text x="166.40" y="364.78" font-size="7.0" fill="#333" text-anchor="end" textLength="7.3" lengthAdjust="spacingAndGlyphs">10</text>
<text x="166.70" y="360.98" font-size="4.6" fill="#333" textLength="4.2" lengthAdjust="spacingAndGlyphs">−4</text>
<line x1="179.00" y1="381.14" x2="267.70" y2="381.14" stroke="#d6d6d6" stroke-width="0.5" stroke-dasharray="2.2,3"/>
<line x1="175.40" y1="381.14" x2="178.00" y2="381.14" stroke="#555" stroke-width="0.6"/>
<path d="M176.50,394.88 H178.00 M176.50,391.42 H178.00 M176.50,388.96 H178.00 M176.50,387.06 H178.00 M176.50,385.50 H178.00 M176.50,384.19 H178.00 M176.50,383.05 H178.00 M176.50,382.04 H178.00 " stroke="#666" stroke-width="0.4"/>
<text x="166.40" y="384.44" font-size="7.0" fill="#333" text-anchor="end" textLength="7.3" lengthAdjust="spacingAndGlyphs">10</text>
<text x="166.70" y="380.64" font-size="4.6" fill="#333" textLength="4.2" lengthAdjust="spacingAndGlyphs">−5</text>
<line x1="175.40" y1="400.80" x2="178.00" y2="400.80" stroke="#555" stroke-width="0.6"/>
<text x="166.40" y="404.10" font-size="7.0" fill="#333" text-anchor="end" textLength="7.3" lengthAdjust="spacingAndGlyphs">10</text>
<text x="166.70" y="400.30" font-size="4.6" fill="#333" textLength="4.2" lengthAdjust="spacingAndGlyphs">−6</text>
<line x1="194.20" y1="400.8" x2="194.20" y2="403.3" stroke="#555" stroke-width="0.6"/>
<line x1="222.40" y1="400.8" x2="222.40" y2="403.3" stroke="#555" stroke-width="0.6"/>
<line x1="253.30" y1="400.8" x2="253.30" y2="403.3" stroke="#555" stroke-width="0.6"/>
<text x="194.20" y="413.50" font-size="7.6" fill="#333" text-anchor="middle">N</text>
<text x="222.40" y="413.50" font-size="7.6" fill="#333" text-anchor="middle">V</text>
<text x="253.30" y="413.50" font-size="7.6" fill="#333" text-anchor="middle">I</text>
<text x="80.80" y="425.70" font-size="7.8" fill="#333" text-anchor="middle" textLength="51.90" lengthAdjust="spacingAndGlyphs">Old amino acid</text>
<text x="223.00" y="425.70" font-size="7.8" fill="#333" text-anchor="middle" textLength="51.90" lengthAdjust="spacingAndGlyphs">Old amino acid</text>
<text x="4.40" y="351.60" font-size="9.2" fill="#333" text-anchor="middle" textLength="122.70" lengthAdjust="spacingAndGlyphs" transform="rotate(-90 4.4 351.6)" dy="3.2">Frequency of new amino acids</text>
<text x="146.80" y="351.60" font-size="9.2" fill="#333" text-anchor="middle" textLength="122.70" lengthAdjust="spacingAndGlyphs" transform="rotate(-90 146.8 351.6)" dy="3.2">Frequency of new amino acids</text>
<circle cx="45.60" cy="317.10" r="1.75" fill="#98d4e2" stroke="#555" stroke-width="0.35"/>
<circle cx="45.40" cy="320.50" r="1.75" fill="#f07f1a" stroke="#555" stroke-width="0.35"/>
<circle cx="45.90" cy="324.10" r="1.75" fill="#c2c2c2" stroke="#555" stroke-width="0.35"/>
<circle cx="55.10" cy="333.60" r="1.75" fill="#d42a2e" stroke="#555" stroke-width="0.35"/>
<circle cx="48.60" cy="338.20" r="1.75" fill="#23963a" stroke="#555" stroke-width="0.35"/>
<circle cx="51.50" cy="339.20" r="1.75" fill="#6e6e6e" stroke="#555" stroke-width="0.35"/>
<circle cx="52.50" cy="339.60" r="1.75" fill="#bfaad6" stroke="#555" stroke-width="0.35"/>
<circle cx="48.60" cy="344.30" r="1.75" fill="#1f6fb2" stroke="#555" stroke-width="0.35"/>
<circle cx="48.40" cy="345.20" r="1.75" fill="#d7d889" stroke="#555" stroke-width="0.35"/>
<circle cx="53.80" cy="346.00" r="1.75" fill="#f49593" stroke="#555" stroke-width="0.35"/>
<circle cx="49.30" cy="349.40" r="1.75" fill="#b5b626" stroke="#555" stroke-width="0.35"/>
<circle cx="44.80" cy="356.60" r="1.75" fill="#6e6e6e" stroke="#555" stroke-width="0.35"/>
<circle cx="54.50" cy="356.60" r="1.75" fill="#a6c4e6" stroke="#555" stroke-width="0.35"/>
<circle cx="51.10" cy="359.60" r="1.75" fill="#df76bf" stroke="#555" stroke-width="0.35"/>
<circle cx="81.20" cy="357.80" r="1.75" fill="#8fcf82" stroke="#555" stroke-width="0.35"/>
<circle cx="78.70" cy="359.80" r="1.75" fill="#1f6fb2" stroke="#555" stroke-width="0.35"/>
<circle cx="77.10" cy="373.10" r="1.75" fill="#f9b678" stroke="#555" stroke-width="0.35"/>
<circle cx="113.50" cy="326.60" r="1.75" fill="#23963a" stroke="#555" stroke-width="0.35"/>
<circle cx="110.50" cy="328.60" r="1.75" fill="#d7d889" stroke="#555" stroke-width="0.35"/>
<circle cx="106.10" cy="334.10" r="1.75" fill="#bfaad6" stroke="#555" stroke-width="0.35"/>
<circle cx="110.90" cy="335.50" r="1.75" fill="#c2c2c2" stroke="#555" stroke-width="0.35"/>
<circle cx="110.10" cy="344.30" r="1.75" fill="#8fcf82" stroke="#555" stroke-width="0.35"/>
<circle cx="113.60" cy="349.40" r="1.75" fill="#6e6e6e" stroke="#555" stroke-width="0.35"/>
<circle cx="106.00" cy="352.10" r="1.75" fill="#b5b626" stroke="#555" stroke-width="0.35"/>
<circle cx="111.60" cy="358.90" r="1.75" fill="#a6c4e6" stroke="#555" stroke-width="0.35"/>
<circle cx="106.70" cy="372.10" r="1.75" fill="#f07f1a" stroke="#555" stroke-width="0.35"/>
<circle cx="106.30" cy="375.00" r="1.75" fill="#c39a92" stroke="#555" stroke-width="0.35"/>
<circle cx="111.90" cy="378.20" r="1.75" fill="#1f6fb2" stroke="#555" stroke-width="0.35"/>
<circle cx="117.20" cy="387.80" r="1.75" fill="#d42a2e" stroke="#555" stroke-width="0.35"/>
<circle cx="110.00" cy="393.60" r="1.75" fill="#98d4e2" stroke="#555" stroke-width="0.35"/>
<circle cx="112.50" cy="393.60" r="1.75" fill="#df76bf" stroke="#555" stroke-width="0.35"/>
<circle cx="195.30" cy="326.90" r="1.75" fill="#c2c2c2" stroke="#555" stroke-width="0.35"/>
<circle cx="188.60" cy="333.00" r="1.75" fill="#f07f1a" stroke="#555" stroke-width="0.35"/>
<circle cx="191.00" cy="333.20" r="1.75" fill="#98d4e2" stroke="#555" stroke-width="0.35"/>
<circle cx="198.50" cy="344.30" r="1.75" fill="#8fcf82" stroke="#555" stroke-width="0.35"/>
<circle cx="195.70" cy="347.50" r="1.75" fill="#1f6fb2" stroke="#555" stroke-width="0.35"/>
<circle cx="197.50" cy="348.40" r="1.75" fill="#23963a" stroke="#555" stroke-width="0.35"/>
<circle cx="191.60" cy="348.40" r="1.75" fill="#d42a2e" stroke="#555" stroke-width="0.35"/>
<circle cx="190.80" cy="350.00" r="1.75" fill="#bfaad6" stroke="#555" stroke-width="0.35"/>
<circle cx="189.60" cy="352.30" r="1.75" fill="#d7d889" stroke="#555" stroke-width="0.35"/>
<circle cx="194.00" cy="351.60" r="1.75" fill="#b5b626" stroke="#555" stroke-width="0.35"/>
<circle cx="196.40" cy="363.40" r="1.75" fill="#7d56b0" stroke="#555" stroke-width="0.35"/>
<circle cx="197.40" cy="366.60" r="1.75" fill="#a6c4e6" stroke="#555" stroke-width="0.35"/>
<circle cx="191.40" cy="371.20" r="1.75" fill="#df76bf" stroke="#555" stroke-width="0.35"/>
<circle cx="192.30" cy="370.20" r="1.75" fill="#6e6e6e" stroke="#555" stroke-width="0.35"/>
<circle cx="220.30" cy="316.10" r="1.75" fill="#c39a92" stroke="#555" stroke-width="0.35"/>
<circle cx="225.50" cy="335.20" r="1.75" fill="#c2c2c2" stroke="#555" stroke-width="0.35"/>
<circle cx="220.70" cy="339.60" r="1.75" fill="#f07f1a" stroke="#555" stroke-width="0.35"/>
<circle cx="222.70" cy="346.10" r="1.75" fill="#98d4e2" stroke="#555" stroke-width="0.35"/>
<circle cx="218.90" cy="349.40" r="1.75" fill="#7d56b0" stroke="#555" stroke-width="0.35"/>
<circle cx="221.00" cy="348.80" r="1.75" fill="#f49593" stroke="#555" stroke-width="0.35"/>
<circle cx="224.10" cy="352.50" r="1.75" fill="#bfaad6" stroke="#555" stroke-width="0.35"/>
<circle cx="221.70" cy="354.80" r="1.75" fill="#23963a" stroke="#555" stroke-width="0.35"/>
<circle cx="218.70" cy="358.90" r="1.75" fill="#6e6e6e" stroke="#555" stroke-width="0.35"/>
<circle cx="223.40" cy="361.10" r="1.75" fill="#b5b626" stroke="#555" stroke-width="0.35"/>
<circle cx="219.60" cy="366.10" r="1.75" fill="#d42a2e" stroke="#555" stroke-width="0.35"/>
<circle cx="221.00" cy="367.50" r="1.75" fill="#8a5347" stroke="#555" stroke-width="0.35"/>
<circle cx="217.30" cy="380.70" r="1.75" fill="#a6c4e6" stroke="#555" stroke-width="0.35"/>
<circle cx="221.90" cy="379.10" r="1.75" fill="#f9b678" stroke="#555" stroke-width="0.35"/>
<circle cx="225.70" cy="396.20" r="1.75" fill="#df76bf" stroke="#555" stroke-width="0.35"/>
<circle cx="249.60" cy="320.40" r="1.75" fill="#c39a92" stroke="#555" stroke-width="0.35"/>
<circle cx="252.70" cy="328.50" r="1.75" fill="#98d4e2" stroke="#555" stroke-width="0.35"/>
<circle cx="247.80" cy="333.30" r="1.75" fill="#c2c2c2" stroke="#555" stroke-width="0.35"/>
<circle cx="251.80" cy="334.00" r="1.75" fill="#1f6fb2" stroke="#555" stroke-width="0.35"/>
<circle cx="259.10" cy="335.50" r="1.75" fill="#f07f1a" stroke="#555" stroke-width="0.35"/>
<circle cx="256.90" cy="339.10" r="1.75" fill="#b5b626" stroke="#555" stroke-width="0.35"/>
<circle cx="253.60" cy="350.40" r="1.75" fill="#d42a2e" stroke="#555" stroke-width="0.35"/>
<circle cx="250.40" cy="352.40" r="1.75" fill="#8fcf82" stroke="#555" stroke-width="0.35"/>
<circle cx="248.20" cy="353.60" r="1.75" fill="#d7d889" stroke="#555" stroke-width="0.35"/>
<circle cx="250.00" cy="356.70" r="1.75" fill="#bfaad6" stroke="#555" stroke-width="0.35"/>
<circle cx="258.70" cy="357.30" r="1.75" fill="#df76bf" stroke="#555" stroke-width="0.35"/>
<circle cx="249.60" cy="374.90" r="1.75" fill="#a6c4e6" stroke="#555" stroke-width="0.35"/>
<circle cx="251.70" cy="390.00" r="1.75" fill="#6e6e6e" stroke="#555" stroke-width="0.35"/>
<circle cx="284.0" cy="269.10" r="2.0" fill="#1f6fb2"/>
<text x="290.00" y="271.80" font-size="7.4" fill="#333">A</text>
<circle cx="284.0" cy="276.10" r="2.0" fill="#a6c4e6"/>
<text x="290.00" y="278.80" font-size="7.4" fill="#333">C</text>
<circle cx="284.0" cy="283.10" r="2.0" fill="#f07f1a"/>
<text x="290.00" y="285.80" font-size="7.4" fill="#333">D</text>
<circle cx="284.0" cy="290.10" r="2.0" fill="#f9b678"/>
<text x="290.00" y="292.80" font-size="7.4" fill="#333">E</text>
<circle cx="284.0" cy="297.10" r="2.0" fill="#23963a"/>
<text x="290.00" y="299.80" font-size="7.4" fill="#333">F</text>
<circle cx="284.0" cy="304.10" r="2.0" fill="#8fcf82"/>
<text x="290.00" y="306.80" font-size="7.4" fill="#333">G</text>
<circle cx="284.0" cy="311.10" r="2.0" fill="#d42a2e"/>
<text x="290.00" y="313.80" font-size="7.4" fill="#333">H</text>
<circle cx="284.0" cy="318.10" r="2.0" fill="#f49593"/>
<text x="290.00" y="320.80" font-size="7.4" fill="#333">I</text>
<circle cx="284.0" cy="325.10" r="2.0" fill="#7d56b0"/>
<text x="290.00" y="327.80" font-size="7.4" fill="#333">K</text>
<circle cx="284.0" cy="332.10" r="2.0" fill="#bfaad6"/>
<text x="290.00" y="334.80" font-size="7.4" fill="#333">L</text>
<circle cx="284.0" cy="339.10" r="2.0" fill="#8a5347"/>
<text x="290.00" y="341.80" font-size="7.4" fill="#333">M</text>
<circle cx="284.0" cy="346.10" r="2.0" fill="#c39a92"/>
<text x="290.00" y="348.80" font-size="7.4" fill="#333">N</text>
<circle cx="284.0" cy="353.10" r="2.0" fill="#df76bf"/>
<text x="290.00" y="355.80" font-size="7.4" fill="#333">P</text>
<circle cx="284.0" cy="360.10" r="2.0" fill="#f5b5d3"/>
<text x="290.00" y="362.80" font-size="7.4" fill="#333">Q</text>
<circle cx="284.0" cy="367.10" r="2.0" fill="#6e6e6e"/>
<text x="290.00" y="369.80" font-size="7.4" fill="#333">R</text>
<circle cx="284.0" cy="374.10" r="2.0" fill="#c2c2c2"/>
<text x="290.00" y="376.80" font-size="7.4" fill="#333">S</text>
<circle cx="284.0" cy="381.10" r="2.0" fill="#b5b626"/>
<text x="290.00" y="383.80" font-size="7.4" fill="#333">T</text>
<circle cx="284.0" cy="388.10" r="2.0" fill="#d7d889"/>
<text x="290.00" y="390.80" font-size="7.4" fill="#333">V</text>
<circle cx="284.0" cy="395.10" r="2.0" fill="#1aa7c4"/>
<text x="290.00" y="397.80" font-size="7.4" fill="#333">W</text>
<circle cx="284.0" cy="402.10" r="2.0" fill="#98d4e2"/>
<text x="290.00" y="404.80" font-size="7.4" fill="#333">Y</text>
<path d="M349.4,267.0 H485.3 V401.4" fill="none" stroke="#c9c9c9" stroke-width="0.9"/>
<line x1="350.40" y1="385.79" x2="484.30" y2="385.79" stroke="#d9d9d9" stroke-width="0.5" stroke-dasharray="2.4,3.2"/>
<line x1="350.40" y1="370.18" x2="484.30" y2="370.18" stroke="#d9d9d9" stroke-width="0.5" stroke-dasharray="2.4,3.2"/>
<line x1="350.40" y1="354.57" x2="484.30" y2="354.57" stroke="#d9d9d9" stroke-width="0.5" stroke-dasharray="2.4,3.2"/>
<line x1="350.40" y1="338.96" x2="484.30" y2="338.96" stroke="#d9d9d9" stroke-width="0.5" stroke-dasharray="2.4,3.2"/>
<line x1="350.40" y1="323.35" x2="484.30" y2="323.35" stroke="#d9d9d9" stroke-width="0.5" stroke-dasharray="2.4,3.2"/>
<line x1="350.40" y1="307.74" x2="484.30" y2="307.74" stroke="#d9d9d9" stroke-width="0.5" stroke-dasharray="2.4,3.2"/>
<line x1="350.40" y1="292.13" x2="484.30" y2="292.13" stroke="#d9d9d9" stroke-width="0.5" stroke-dasharray="2.4,3.2"/>
<line x1="350.40" y1="276.52" x2="484.30" y2="276.52" stroke="#d9d9d9" stroke-width="0.5" stroke-dasharray="2.4,3.2"/>
<rect x="355.00" y="273.71" width="10.4" height="127.69" fill="#4471b4"/>
<rect x="366.35" y="324.60" width="10.4" height="76.80" fill="#4471b4"/>
<rect x="377.70" y="353.63" width="10.4" height="47.77" fill="#4471b4"/>
<rect x="389.05" y="373.93" width="10.4" height="27.47" fill="#4471b4"/>
<rect x="400.40" y="387.04" width="10.4" height="14.36" fill="#4471b4"/>
<rect x="411.75" y="394.53" width="10.4" height="6.87" fill="#4471b4"/>
<rect x="423.10" y="398.68" width="10.4" height="2.72" fill="#4471b4"/>
<rect x="434.45" y="400.62" width="10.4" height="0.78" fill="#4471b4"/>
<rect x="445.80" y="401.21" width="10.4" height="0.19" fill="#4471b4"/>
<rect x="457.15" y="401.34" width="10.4" height="0.06" fill="#4471b4"/>
<path d="M349.4,266.5 V401.4 H485.7" fill="none" stroke="#555" stroke-width="0.8"/>
<line x1="346.40" y1="401.40" x2="349.40" y2="401.40" stroke="#555" stroke-width="0.6"/>
<text x="342.60" y="404.10" font-size="7.6" fill="#333" text-anchor="end">0</text>
<line x1="346.40" y1="385.79" x2="349.40" y2="385.79" stroke="#555" stroke-width="0.6"/>
<text x="342.60" y="388.49" font-size="7.6" fill="#333" text-anchor="end">5</text>
<line x1="346.40" y1="370.18" x2="349.40" y2="370.18" stroke="#555" stroke-width="0.6"/>
<text x="342.60" y="372.88" font-size="7.6" fill="#333" text-anchor="end">10</text>
<line x1="346.40" y1="354.57" x2="349.40" y2="354.57" stroke="#555" stroke-width="0.6"/>
<text x="342.60" y="357.27" font-size="7.6" fill="#333" text-anchor="end">15</text>
<line x1="346.40" y1="338.96" x2="349.40" y2="338.96" stroke="#555" stroke-width="0.6"/>
<text x="342.60" y="341.66" font-size="7.6" fill="#333" text-anchor="end">20</text>
<line x1="346.40" y1="323.35" x2="349.40" y2="323.35" stroke="#555" stroke-width="0.6"/>
<text x="342.60" y="326.05" font-size="7.6" fill="#333" text-anchor="end">25</text>
<line x1="346.40" y1="307.74" x2="349.40" y2="307.74" stroke="#555" stroke-width="0.6"/>
<text x="342.60" y="310.44" font-size="7.6" fill="#333" text-anchor="end">30</text>
<line x1="346.40" y1="292.13" x2="349.40" y2="292.13" stroke="#555" stroke-width="0.6"/>
<text x="342.60" y="294.83" font-size="7.6" fill="#333" text-anchor="end">35</text>
<line x1="346.40" y1="276.52" x2="349.40" y2="276.52" stroke="#555" stroke-width="0.6"/>
<text x="342.60" y="279.22" font-size="7.6" fill="#333" text-anchor="end">40</text>
<line x1="360.20" y1="401.4" x2="360.20" y2="404.40" stroke="#555" stroke-width="0.6"/>
<text x="360.20" y="414.00" font-size="7.4" fill="#333" text-anchor="middle">1</text>
<line x1="371.55" y1="401.4" x2="371.55" y2="404.40" stroke="#555" stroke-width="0.6"/>
<text x="371.55" y="414.00" font-size="7.4" fill="#333" text-anchor="middle">2</text>
<line x1="382.90" y1="401.4" x2="382.90" y2="404.40" stroke="#555" stroke-width="0.6"/>
<text x="382.90" y="414.00" font-size="7.4" fill="#333" text-anchor="middle">3</text>
<line x1="394.25" y1="401.4" x2="394.25" y2="404.40" stroke="#555" stroke-width="0.6"/>
<text x="394.25" y="414.00" font-size="7.4" fill="#333" text-anchor="middle">4</text>
<line x1="405.60" y1="401.4" x2="405.60" y2="404.40" stroke="#555" stroke-width="0.6"/>
<text x="405.60" y="414.00" font-size="7.4" fill="#333" text-anchor="middle">5</text>
<line x1="416.95" y1="401.4" x2="416.95" y2="404.40" stroke="#555" stroke-width="0.6"/>
<text x="416.95" y="414.00" font-size="7.4" fill="#333" text-anchor="middle">6</text>
<line x1="428.30" y1="401.4" x2="428.30" y2="404.40" stroke="#555" stroke-width="0.6"/>
<text x="428.30" y="414.00" font-size="7.4" fill="#333" text-anchor="middle">7</text>
<line x1="439.65" y1="401.4" x2="439.65" y2="404.40" stroke="#555" stroke-width="0.6"/>
<text x="439.65" y="414.00" font-size="7.4" fill="#333" text-anchor="middle">8</text>
<line x1="451.00" y1="401.4" x2="451.00" y2="404.40" stroke="#555" stroke-width="0.6"/>
<text x="451.00" y="414.00" font-size="7.4" fill="#333" text-anchor="middle">9</text>
<line x1="462.35" y1="401.4" x2="462.35" y2="404.40" stroke="#555" stroke-width="0.6"/>
<text x="462.35" y="414.00" font-size="7.4" fill="#333" text-anchor="middle">10</text>
<line x1="473.70" y1="401.4" x2="473.70" y2="404.40" stroke="#555" stroke-width="0.6"/>
<text x="473.70" y="414.00" font-size="7.4" fill="#333" text-anchor="middle">11</text>
<line x1="485.05" y1="401.4" x2="485.05" y2="404.40" stroke="#555" stroke-width="0.6"/>
<text x="485.05" y="414.00" font-size="7.4" fill="#333" text-anchor="middle">12</text>
<text x="416.00" y="427.70" font-size="9.0" fill="#333" text-anchor="middle" textLength="85.50" lengthAdjust="spacingAndGlyphs">Number of mutations</text>
<text x="417.50" y="437.20" font-size="9.0" fill="#333" text-anchor="middle" textLength="108.20" lengthAdjust="spacingAndGlyphs">per mutagenized molecule</text>
<text x="323.90" y="334.70" font-size="8.8" fill="#333" text-anchor="middle" textLength="46.60" lengthAdjust="spacingAndGlyphs" transform="rotate(-90 323.9 334.7)" dy="3">Percentage</text>
<path d="M548.7,266.6 H686" fill="none" stroke="#c9c9c9" stroke-width="0.9"/>
<line x1="549.70" y1="376.50" x2="686" y2="376.50" stroke="#d9d9d9" stroke-width="0.5" stroke-dasharray="2.4,3.2"/>
<line x1="549.70" y1="351.50" x2="686" y2="351.50" stroke="#d9d9d9" stroke-width="0.5" stroke-dasharray="2.4,3.2"/>
<line x1="549.70" y1="326.50" x2="686" y2="326.50" stroke="#d9d9d9" stroke-width="0.5" stroke-dasharray="2.4,3.2"/>
<line x1="549.70" y1="301.50" x2="686" y2="301.50" stroke="#d9d9d9" stroke-width="0.5" stroke-dasharray="2.4,3.2"/>
<line x1="549.70" y1="276.50" x2="686" y2="276.50" stroke="#d9d9d9" stroke-width="0.5" stroke-dasharray="2.4,3.2"/>
<rect x="548.32" y="372.43" width="2.0" height="29.07" fill="#4471b4"/>
<rect x="550.78" y="364.23" width="2.0" height="37.28" fill="#4471b4"/>
<rect x="553.24" y="354.04" width="2.0" height="47.46" fill="#4471b4"/>
<rect x="555.70" y="348.82" width="2.0" height="52.68" fill="#4471b4"/>
<rect x="558.16" y="344.84" width="2.0" height="56.66" fill="#4471b4"/>
<rect x="560.62" y="342.85" width="2.0" height="58.65" fill="#4471b4"/>
<rect x="563.08" y="338.88" width="2.0" height="62.62" fill="#4471b4"/>
<rect x="565.54" y="333.41" width="2.0" height="68.09" fill="#4471b4"/>
<rect x="568.00" y="327.45" width="2.0" height="74.05" fill="#4471b4"/>
<rect x="570.46" y="314.03" width="2.0" height="87.47" fill="#4471b4"/>
<rect x="572.92" y="319.00" width="2.0" height="82.50" fill="#4471b4"/>
<rect x="575.38" y="315.02" width="2.0" height="86.48" fill="#4471b4"/>
<rect x="577.84" y="312.04" width="2.0" height="89.46" fill="#4471b4"/>
<rect x="580.30" y="314.52" width="2.0" height="86.98" fill="#4471b4"/>
<rect x="582.76" y="301.60" width="2.0" height="99.90" fill="#4471b4"/>
<rect x="585.22" y="304.58" width="2.0" height="96.92" fill="#4471b4"/>
<rect x="587.68" y="298.12" width="2.0" height="103.38" fill="#4471b4"/>
<rect x="590.14" y="288.18" width="2.0" height="113.32" fill="#4471b4"/>
<rect x="592.60" y="290.17" width="2.0" height="111.33" fill="#4471b4"/>
<rect x="595.06" y="298.12" width="2.0" height="103.38" fill="#4471b4"/>
<rect x="597.52" y="284.70" width="2.0" height="116.80" fill="#4471b4"/>
<rect x="599.98" y="282.22" width="2.0" height="119.28" fill="#4471b4"/>
<rect x="602.44" y="280.23" width="2.0" height="121.27" fill="#4471b4"/>
<rect x="604.90" y="276.26" width="2.0" height="125.24" fill="#4471b4"/>
<rect x="607.36" y="278.24" width="2.0" height="123.26" fill="#4471b4"/>
<rect x="609.82" y="280.73" width="2.0" height="120.77" fill="#4471b4"/>
<rect x="612.28" y="273.77" width="2.0" height="127.73" fill="#4471b4"/>
<rect x="614.74" y="284.21" width="2.0" height="117.29" fill="#4471b4"/>
<rect x="617.20" y="273.77" width="2.0" height="127.73" fill="#4471b4"/>
<rect x="619.66" y="275.76" width="2.0" height="125.74" fill="#4471b4"/>
<rect x="622.12" y="279.24" width="2.0" height="122.26" fill="#4471b4"/>
<rect x="624.58" y="295.64" width="2.0" height="105.86" fill="#4471b4"/>
<rect x="627.04" y="284.21" width="2.0" height="117.29" fill="#4471b4"/>
<rect x="629.50" y="282.72" width="2.0" height="118.78" fill="#4471b4"/>
<rect x="631.96" y="288.18" width="2.0" height="113.32" fill="#4471b4"/>
<rect x="634.42" y="289.68" width="2.0" height="111.83" fill="#4471b4"/>
<rect x="636.88" y="292.66" width="2.0" height="108.84" fill="#4471b4"/>
<rect x="639.34" y="293.15" width="2.0" height="108.35" fill="#4471b4"/>
<rect x="641.80" y="288.18" width="2.0" height="113.32" fill="#4471b4"/>
<rect x="644.26" y="288.18" width="2.0" height="113.32" fill="#4471b4"/>
<rect x="646.72" y="285.70" width="2.0" height="115.80" fill="#4471b4"/>
<rect x="649.18" y="298.12" width="2.0" height="103.38" fill="#4471b4"/>
<rect x="651.64" y="295.64" width="2.0" height="105.86" fill="#4471b4"/>
<rect x="654.10" y="316.02" width="2.0" height="85.48" fill="#4471b4"/>
<rect x="656.56" y="320.99" width="2.0" height="80.51" fill="#4471b4"/>
<rect x="659.02" y="322.48" width="2.0" height="79.02" fill="#4471b4"/>
<rect x="661.48" y="330.93" width="2.0" height="70.57" fill="#4471b4"/>
<rect x="663.94" y="325.96" width="2.0" height="75.54" fill="#4471b4"/>
<rect x="666.40" y="333.91" width="2.0" height="67.59" fill="#4471b4"/>
<rect x="668.86" y="346.33" width="2.0" height="55.17" fill="#4471b4"/>
<rect x="671.32" y="345.34" width="2.0" height="56.16" fill="#4471b4"/>
<rect x="673.78" y="358.01" width="2.0" height="43.49" fill="#4471b4"/>
<rect x="676.24" y="363.23" width="2.0" height="38.27" fill="#4471b4"/>
<rect x="678.70" y="367.70" width="2.0" height="33.80" fill="#4471b4"/>
<rect x="681.16" y="370.19" width="2.0" height="31.31" fill="#4471b4"/>
<rect x="683.62" y="372.18" width="2.0" height="29.32" fill="#4471b4"/>
<path d="M548.7,266.1 V401.5 H686" fill="none" stroke="#555" stroke-width="0.8"/>
<line x1="545.70" y1="401.50" x2="548.70" y2="401.50" stroke="#555" stroke-width="0.6"/>
<text x="542.50" y="404.20" font-size="7.4" fill="#333" text-anchor="end">0</text>
<line x1="545.70" y1="376.50" x2="548.70" y2="376.50" stroke="#555" stroke-width="0.6"/>
<text x="542.50" y="379.20" font-size="7.4" fill="#333" text-anchor="end">0.5</text>
<line x1="545.70" y1="351.50" x2="548.70" y2="351.50" stroke="#555" stroke-width="0.6"/>
<text x="542.50" y="354.20" font-size="7.4" fill="#333" text-anchor="end">1.0</text>
<line x1="545.70" y1="326.50" x2="548.70" y2="326.50" stroke="#555" stroke-width="0.6"/>
<text x="542.50" y="329.20" font-size="7.4" fill="#333" text-anchor="end">1.5</text>
<line x1="545.70" y1="301.50" x2="548.70" y2="301.50" stroke="#555" stroke-width="0.6"/>
<text x="542.50" y="304.20" font-size="7.4" fill="#333" text-anchor="end">2.0</text>
<line x1="545.70" y1="276.50" x2="548.70" y2="276.50" stroke="#555" stroke-width="0.6"/>
<text x="542.50" y="279.20" font-size="7.4" fill="#333" text-anchor="end">2.5</text>
<line x1="556.70" y1="401.5" x2="556.70" y2="404.50" stroke="#555" stroke-width="0.6"/>
<text x="556.70" y="414.00" font-size="7.4" fill="#333" text-anchor="middle">10</text>
<line x1="581.30" y1="401.5" x2="581.30" y2="404.50" stroke="#555" stroke-width="0.6"/>
<text x="581.30" y="414.00" font-size="7.4" fill="#333" text-anchor="middle">20</text>
<line x1="605.90" y1="401.5" x2="605.90" y2="404.50" stroke="#555" stroke-width="0.6"/>
<text x="605.90" y="414.00" font-size="7.4" fill="#333" text-anchor="middle">30</text>
<line x1="630.50" y1="401.5" x2="630.50" y2="404.50" stroke="#555" stroke-width="0.6"/>
<text x="630.50" y="414.00" font-size="7.4" fill="#333" text-anchor="middle">40</text>
<line x1="655.10" y1="401.5" x2="655.10" y2="404.50" stroke="#555" stroke-width="0.6"/>
<text x="655.10" y="414.00" font-size="7.4" fill="#333" text-anchor="middle">50</text>
<line x1="679.70" y1="401.5" x2="679.70" y2="404.50" stroke="#555" stroke-width="0.6"/>
<text x="679.70" y="414.00" font-size="7.4" fill="#333" text-anchor="middle">60</text>
<text x="615.50" y="427.40" font-size="9.0" fill="#333" text-anchor="middle" textLength="95.30" lengthAdjust="spacingAndGlyphs">Position of the mutation</text>
<text x="523.70" y="334.00" font-size="8.8" fill="#333" text-anchor="middle" textLength="46.60" lengthAdjust="spacingAndGlyphs" transform="rotate(-90 523.7 334.0)" dy="3">Percentage</text>
</svg>
</body></html>
